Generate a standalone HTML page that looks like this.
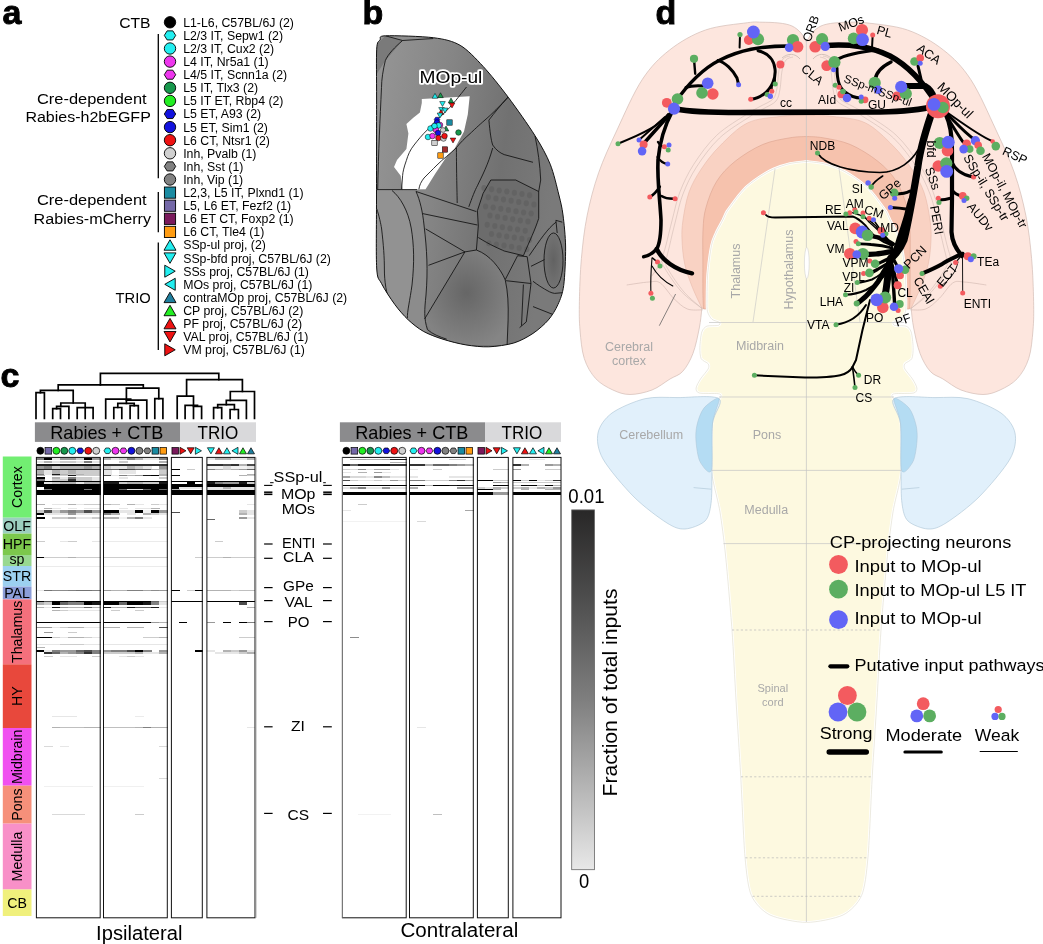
<!DOCTYPE html>
<html><head><meta charset="utf-8"><style>
html,body{margin:0;padding:0;background:#fff;}
body{width:1043px;height:944px;overflow:hidden;}
svg{display:block;font-family:"Liberation Sans", sans-serif;will-change:transform;}
</style></head><body>
<svg width="1043" height="944" viewBox="0 0 1043 944">
<text x="2.5" y="24.3" font-size="34" font-weight="bold" stroke="#000" stroke-width="0.9">a</text>
<circle cx="170" cy="22.3" r="5.7" fill="#000" stroke="#000" stroke-width="0.9"/>
<text x="183.2" y="26.7" font-size="12.3">L1-L6, C57BL/6J (2)</text>
<polygon points="175.7,35.4 172.85,39.94 167.15,39.94 164.3,35.4 167.15,30.86 172.85,30.86" fill="#22eef0" stroke="#000" stroke-width="0.9"/>
<text x="183.2" y="39.8" font-size="12.3">L2/3 IT, Sepw1 (2)</text>
<circle cx="170" cy="48.5" r="5.7" fill="#22eef0" stroke="#000" stroke-width="0.9"/>
<text x="183.2" y="52.9" font-size="12.3">L2/3 IT, Cux2 (2)</text>
<circle cx="170" cy="61.6" r="5.7" fill="#ee36ee" stroke="#000" stroke-width="0.9"/>
<text x="183.2" y="66" font-size="12.3">L4 IT, Nr5a1 (1)</text>
<polygon points="175.7,74.7 172.85,79.24 167.15,79.24 164.3,74.7 167.15,70.16 172.85,70.16" fill="#ee36ee" stroke="#000" stroke-width="0.9"/>
<text x="183.2" y="79.1" font-size="12.3">L4/5 IT, Scnn1a (2)</text>
<circle cx="170" cy="87.8" r="5.7" fill="#17974c" stroke="#000" stroke-width="0.9"/>
<text x="183.2" y="92.2" font-size="12.3">L5 IT, Tlx3 (2)</text>
<circle cx="170" cy="100.9" r="5.7" fill="#22ee22" stroke="#000" stroke-width="0.9"/>
<text x="183.2" y="105.3" font-size="12.3">L5 IT ET, Rbp4 (2)</text>
<polygon points="175.7,114 172.85,118.54 167.15,118.54 164.3,114 167.15,109.46 172.85,109.46" fill="#1212de" stroke="#000" stroke-width="0.9"/>
<text x="183.2" y="118.4" font-size="12.3">L5 ET, A93 (2)</text>
<circle cx="170" cy="127.1" r="5.7" fill="#1212de" stroke="#000" stroke-width="0.9"/>
<text x="183.2" y="131.5" font-size="12.3">L5 ET, Sim1 (2)</text>
<circle cx="170" cy="140.2" r="5.7" fill="#ee1212" stroke="#000" stroke-width="0.9"/>
<text x="183.2" y="144.6" font-size="12.3">L6 CT, Ntsr1 (2)</text>
<circle cx="170" cy="153.3" r="5.7" fill="#d0d0d0" stroke="#000" stroke-width="0.9"/>
<text x="183.2" y="157.7" font-size="12.3">Inh, Pvalb (1)</text>
<polygon points="175.7,166.4 172.85,170.94 167.15,170.94 164.3,166.4 167.15,161.86 172.85,161.86" fill="#818181" stroke="#000" stroke-width="0.9"/>
<text x="183.2" y="170.8" font-size="12.3">Inh, Sst (1)</text>
<circle cx="170" cy="179.5" r="5.7" fill="#818181" stroke="#000" stroke-width="0.9"/>
<text x="183.2" y="183.9" font-size="12.3">Inh, Vip (1)</text>
<rect x="164.4" y="187" width="11.2" height="11.2" fill="#1a8ba2" stroke="#000" stroke-width="0.9"/>
<text x="183.2" y="197" font-size="12.3">L2,3, L5 IT, Plxnd1 (1)</text>
<rect x="164.4" y="200.1" width="11.2" height="11.2" fill="#7468a8" stroke="#000" stroke-width="0.9"/>
<text x="183.2" y="210.1" font-size="12.3">L5, L6 ET, Fezf2 (1)</text>
<rect x="164.4" y="213.2" width="11.2" height="11.2" fill="#7a1a5c" stroke="#000" stroke-width="0.9"/>
<text x="183.2" y="223.2" font-size="12.3">L6 ET CT, Foxp2 (1)</text>
<rect x="164.4" y="226.3" width="11.2" height="11.2" fill="#ff9c12" stroke="#000" stroke-width="0.9"/>
<text x="183.2" y="236.3" font-size="12.3">L6 CT, Tle4 (1)</text>
<polygon points="170,239.78 176,250.22 164,250.22" fill="#22eef0" stroke="#000" stroke-width="0.9"/>
<text x="183.2" y="249.4" font-size="12.3">SSp-ul proj, (2)</text>
<polygon points="170,263.32 176,252.88 164,252.88" fill="#22eef0" stroke="#000" stroke-width="0.9"/>
<text x="183.2" y="262.5" font-size="12.3">SSp-bfd proj, C57BL/6J (2)</text>
<polygon points="175.22,271.2 164.78,265.2 164.78,277.2" fill="#22eef0" stroke="#000" stroke-width="0.9"/>
<text x="183.2" y="275.6" font-size="12.3">SSs proj, C57BL/6J (1)</text>
<polygon points="164.78,284.3 175.22,278.3 175.22,290.3" fill="#22eef0" stroke="#000" stroke-width="0.9"/>
<text x="183.2" y="288.7" font-size="12.3">MOs proj, C57BL/6J (1)</text>
<polygon points="170,292.18 176,302.62 164,302.62" fill="#1f7f9e" stroke="#000" stroke-width="0.9"/>
<text x="183.2" y="301.8" font-size="12.3">contraMOp proj, C57BL/6J (2)</text>
<polygon points="170,305.28 176,315.72 164,315.72" fill="#22ee22" stroke="#000" stroke-width="0.9"/>
<text x="183.2" y="314.9" font-size="12.3">CP proj, C57BL/6J (2)</text>
<polygon points="170,318.38 176,328.82 164,328.82" fill="#ee1212" stroke="#000" stroke-width="0.9"/>
<text x="183.2" y="328" font-size="12.3">PF proj, C57BL/6J (2)</text>
<polygon points="170,341.92 176,331.48 164,331.48" fill="#ee1212" stroke="#000" stroke-width="0.9"/>
<text x="183.2" y="341.1" font-size="12.3">VAL proj, C57BL/6J (1)</text>
<polygon points="175.22,349.8 164.78,343.8 164.78,355.8" fill="#ee1212" stroke="#000" stroke-width="0.9"/>
<text x="183.2" y="354.2" font-size="12.3">VM proj, C57BL/6J (1)</text>
<text x="119.2" y="27.6" font-size="15.4" textLength="31.4" lengthAdjust="spacingAndGlyphs">CTB</text>
<text x="37" y="103.7" font-size="15.4" textLength="109.63" lengthAdjust="spacingAndGlyphs">Cre-dependent</text>
<text x="25.4" y="122" font-size="15.4" textLength="125.44" lengthAdjust="spacingAndGlyphs">Rabies-h2bEGFP</text>
<text x="37" y="205.4" font-size="15.4" textLength="109.63" lengthAdjust="spacingAndGlyphs">Cre-dependent</text>
<text x="33.6" y="224" font-size="15.4" textLength="117.39" lengthAdjust="spacingAndGlyphs">Rabies-mCherry</text>
<text x="115.6" y="302.9" font-size="15.4" textLength="35.18" lengthAdjust="spacingAndGlyphs">TRIO</text>
<line x1="158.3" y1="34" x2="158.3" y2="178.3" stroke="#000" stroke-width="1.3" />
<line x1="158.3" y1="191.9" x2="158.3" y2="232.2" stroke="#000" stroke-width="1.3" />
<line x1="158.3" y1="242.5" x2="158.3" y2="350" stroke="#000" stroke-width="1.3" />
<text x="362.5" y="24.3" font-size="34" font-weight="bold" stroke="#000" stroke-width="0.9">b</text>
<defs>
<linearGradient id="gb1" x1="0" y1="0" x2="1" y2="0.25">
<stop offset="0" stop-color="#969696"/><stop offset="0.4" stop-color="#858585"/>
<stop offset="0.72" stop-color="#717171"/><stop offset="1" stop-color="#7a7a7a"/></linearGradient>
<radialGradient id="gb2" cx="0.5" cy="0.45" r="0.6">
<stop offset="0" stop-color="#666"/><stop offset="1" stop-color="#858585"/></radialGradient>
<radialGradient id="gb3" cx="0.5" cy="0.5" r="0.6">
<stop offset="0" stop-color="#626262"/><stop offset="1" stop-color="#767676"/></radialGradient>
<clipPath id="cb"><path d="M376.7,49.2 C377.21,40.2 378.68,42.01 380,40 C381.32,37.99 377.5,36.14 385.5,35.8 C393.5,35.45 422.11,36.28 433.3,37.7 C444.49,39.12 452.63,40.99 460.1,45.3 C467.57,49.6 475.9,58.63 483.1,66.4 C490.3,74.17 500.33,86.73 508.1,97.1 C515.87,107.46 528.58,125.44 534.9,135.5 C541.22,145.56 546.6,155.27 550.2,164.2 C553.8,173.12 556.98,187.38 558.9,195 C560.82,202.62 562,207.2 563,215 C564,222.8 565.5,236.43 565.6,247 C565.71,257.57 564.86,276.86 563.7,285.5 C562.55,294.14 560.21,299.43 557.9,304.6 C555.59,309.78 552.03,315.68 548.3,320 C544.56,324.32 538.17,329.95 533,333.4 C527.83,336.85 520.41,340.99 513.8,343 C507.18,345.01 496.08,346.51 488.9,346.8 C481.71,347.09 472.8,346.04 465.9,344.9 C459,343.76 449.23,341.21 442.9,339.2 C436.57,337.19 428.88,334.38 423.7,331.5 C418.52,328.62 412.72,324.03 408.4,320 C404.08,315.97 398.93,310.08 394.9,304.6 C390.87,299.12 384.23,288.99 381.5,283.5 C378.77,278.01 377.45,280.52 376.7,268 C375.95,255.47 376.51,225.2 376.5,200 C376.49,174.8 376.57,122.62 376.6,100 C376.63,77.38 376.19,58.2 376.7,49.2 Z"/></clipPath>
</defs>
<path d="M376.7,49.2 C377.21,40.2 378.68,42.01 380,40 C381.32,37.99 377.5,36.14 385.5,35.8 C393.5,35.45 422.11,36.28 433.3,37.7 C444.49,39.12 452.63,40.99 460.1,45.3 C467.57,49.6 475.9,58.63 483.1,66.4 C490.3,74.17 500.33,86.73 508.1,97.1 C515.87,107.46 528.58,125.44 534.9,135.5 C541.22,145.56 546.6,155.27 550.2,164.2 C553.8,173.12 556.98,187.38 558.9,195 C560.82,202.62 562,207.2 563,215 C564,222.8 565.5,236.43 565.6,247 C565.71,257.57 564.86,276.86 563.7,285.5 C562.55,294.14 560.21,299.43 557.9,304.6 C555.59,309.78 552.03,315.68 548.3,320 C544.56,324.32 538.17,329.95 533,333.4 C527.83,336.85 520.41,340.99 513.8,343 C507.18,345.01 496.08,346.51 488.9,346.8 C481.71,347.09 472.8,346.04 465.9,344.9 C459,343.76 449.23,341.21 442.9,339.2 C436.57,337.19 428.88,334.38 423.7,331.5 C418.52,328.62 412.72,324.03 408.4,320 C404.08,315.97 398.93,310.08 394.9,304.6 C390.87,299.12 384.23,288.99 381.5,283.5 C378.77,278.01 377.45,280.52 376.7,268 C375.95,255.47 376.51,225.2 376.5,200 C376.49,174.8 376.57,122.62 376.6,100 C376.63,77.38 376.19,58.2 376.7,49.2 Z" fill="url(#gb1)"/>
<g clip-path="url(#cb)">
<path d="M376,189.6 L392,190.5 C400,197 408,210 411.2,228 C414,245 414.5,262 412,285 C410,300 407,312 407.4,330 L376,330 Z" fill="#929292"/>
<path d="M392,190.5 L416,191.5 C420,200 422.7,212 424,225 C427,250 428,270 426,295 C424.5,310 424,320 427,332 L407,330 C407,312 410,300 412,285 C414.5,262 414,245 411.2,228 C408,210 400,197 392,190.5 Z" fill="#8c8c8c"/>
<path d="M476.4,250 C490,255 500,268 505.2,279.7 C508,292 508.5,305 508.1,320 L507.1,345 L440,345 L424.6,319 L464.9,251.9 Z" fill="url(#gb2)"/>
<path d="M490.8,180 L515.7,180 L538.7,191.5 L538.7,218.4 C535,230 530,240 523.4,255.7 C510,253 495,249 478.3,237.5 L477.4,210.7 L483.1,193.4 Z" fill="#6c6c6c"/>
<ellipse cx="484" cy="188" rx="2.6" ry="3.0" fill="#5c5c5c" opacity="0.55"/>
<ellipse cx="491.6" cy="189.2" rx="2.6" ry="3.0" fill="#5c5c5c" opacity="0.55"/>
<ellipse cx="499.2" cy="190.4" rx="2.6" ry="3.0" fill="#5c5c5c" opacity="0.55"/>
<ellipse cx="506.8" cy="191.6" rx="2.6" ry="3.0" fill="#5c5c5c" opacity="0.55"/>
<ellipse cx="514.4" cy="192.8" rx="2.6" ry="3.0" fill="#5c5c5c" opacity="0.55"/>
<ellipse cx="522" cy="194" rx="2.6" ry="3.0" fill="#5c5c5c" opacity="0.55"/>
<ellipse cx="529.6" cy="195.2" rx="2.6" ry="3.0" fill="#5c5c5c" opacity="0.55"/>
<ellipse cx="488.3" cy="197.2" rx="2.6" ry="3.0" fill="#5c5c5c" opacity="0.55"/>
<ellipse cx="495.9" cy="198.4" rx="2.6" ry="3.0" fill="#5c5c5c" opacity="0.55"/>
<ellipse cx="503.5" cy="199.6" rx="2.6" ry="3.0" fill="#5c5c5c" opacity="0.55"/>
<ellipse cx="511.1" cy="200.8" rx="2.6" ry="3.0" fill="#5c5c5c" opacity="0.55"/>
<ellipse cx="518.7" cy="202" rx="2.6" ry="3.0" fill="#5c5c5c" opacity="0.55"/>
<ellipse cx="526.3" cy="203.2" rx="2.6" ry="3.0" fill="#5c5c5c" opacity="0.55"/>
<ellipse cx="533.9" cy="204.4" rx="2.6" ry="3.0" fill="#5c5c5c" opacity="0.55"/>
<ellipse cx="485.6" cy="206.4" rx="2.6" ry="3.0" fill="#5c5c5c" opacity="0.55"/>
<ellipse cx="493.2" cy="207.6" rx="2.6" ry="3.0" fill="#5c5c5c" opacity="0.55"/>
<ellipse cx="500.8" cy="208.8" rx="2.6" ry="3.0" fill="#5c5c5c" opacity="0.55"/>
<ellipse cx="508.4" cy="210" rx="2.6" ry="3.0" fill="#5c5c5c" opacity="0.55"/>
<ellipse cx="516" cy="211.2" rx="2.6" ry="3.0" fill="#5c5c5c" opacity="0.55"/>
<ellipse cx="523.6" cy="212.4" rx="2.6" ry="3.0" fill="#5c5c5c" opacity="0.55"/>
<ellipse cx="531.2" cy="213.6" rx="2.6" ry="3.0" fill="#5c5c5c" opacity="0.55"/>
<ellipse cx="489.9" cy="215.6" rx="2.6" ry="3.0" fill="#5c5c5c" opacity="0.55"/>
<ellipse cx="497.5" cy="216.8" rx="2.6" ry="3.0" fill="#5c5c5c" opacity="0.55"/>
<ellipse cx="505.1" cy="218" rx="2.6" ry="3.0" fill="#5c5c5c" opacity="0.55"/>
<ellipse cx="512.7" cy="219.2" rx="2.6" ry="3.0" fill="#5c5c5c" opacity="0.55"/>
<ellipse cx="520.3" cy="220.4" rx="2.6" ry="3.0" fill="#5c5c5c" opacity="0.55"/>
<ellipse cx="527.9" cy="221.6" rx="2.6" ry="3.0" fill="#5c5c5c" opacity="0.55"/>
<ellipse cx="487.2" cy="224.8" rx="2.6" ry="3.0" fill="#5c5c5c" opacity="0.55"/>
<ellipse cx="494.8" cy="226" rx="2.6" ry="3.0" fill="#5c5c5c" opacity="0.55"/>
<ellipse cx="502.4" cy="227.2" rx="2.6" ry="3.0" fill="#5c5c5c" opacity="0.55"/>
<ellipse cx="510" cy="228.4" rx="2.6" ry="3.0" fill="#5c5c5c" opacity="0.55"/>
<ellipse cx="517.6" cy="229.6" rx="2.6" ry="3.0" fill="#5c5c5c" opacity="0.55"/>
<ellipse cx="525.2" cy="230.8" rx="2.6" ry="3.0" fill="#5c5c5c" opacity="0.55"/>
<ellipse cx="491.5" cy="234" rx="2.6" ry="3.0" fill="#5c5c5c" opacity="0.55"/>
<ellipse cx="499.1" cy="235.2" rx="2.6" ry="3.0" fill="#5c5c5c" opacity="0.55"/>
<ellipse cx="506.7" cy="236.4" rx="2.6" ry="3.0" fill="#5c5c5c" opacity="0.55"/>
<ellipse cx="514.3" cy="237.6" rx="2.6" ry="3.0" fill="#5c5c5c" opacity="0.55"/>
<ellipse cx="521.9" cy="238.8" rx="2.6" ry="3.0" fill="#5c5c5c" opacity="0.55"/>
<ellipse cx="529.5" cy="240" rx="2.6" ry="3.0" fill="#5c5c5c" opacity="0.55"/>
<ellipse cx="488.8" cy="243.2" rx="2.6" ry="3.0" fill="#5c5c5c" opacity="0.55"/>
<ellipse cx="496.4" cy="244.4" rx="2.6" ry="3.0" fill="#5c5c5c" opacity="0.55"/>
<ellipse cx="504" cy="245.6" rx="2.6" ry="3.0" fill="#5c5c5c" opacity="0.55"/>
<ellipse cx="511.6" cy="246.8" rx="2.6" ry="3.0" fill="#5c5c5c" opacity="0.55"/>
<ellipse cx="519.2" cy="248" rx="2.6" ry="3.0" fill="#5c5c5c" opacity="0.55"/>
<ellipse cx="526.8" cy="249.2" rx="2.6" ry="3.0" fill="#5c5c5c" opacity="0.55"/>
<ellipse cx="553.5" cy="260.5" rx="9.5" ry="27.5" fill="url(#gb3)"/>
<path d="M376,45 L385.5,35.8 L402.6,40.5 L385.3,60.7 L376,75 Z" fill="#7a7a7a"/>
<path d="M421.8,99 L469.7,96.2 L467.8,114.4 L464,131.6 L454.4,148.9 L446.7,156.6 L435.2,173.8 L425.6,189.2 L402.6,189.4 L400.7,175.7 L394,167.1 L397,160 L406.4,148.9 L408.4,133.5 L406.4,124 L413,118 L419.9,112.5 L421.8,102.9 Z" fill="#fff"/>
<g fill="none" stroke="#111" stroke-width="0.85">
<path d="M385.5,35.8 L402.6,40.5 L433.3,38.5" fill="none" stroke="#111" stroke-width="0.85"/>
<path d="M402.6,40.5 C395,47 388,54 385.3,60.7 C383,70 381.5,80 381.5,87.5 C380,120 378.5,150 377.7,189.6" fill="none" stroke="#111" stroke-width="0.85"/>
<path d="M376.7,189.6 L417,189.6" fill="none" stroke="#111" stroke-width="0.85"/>
<path d="M392,190.5 C400,197 408,210 411.2,228 C414,245 414.5,262 412,285 C410,300 407,312 407.4,318" fill="none" stroke="#111" stroke-width="0.85"/>
<path d="M376.7,208.8 C379,215 381,225 381.5,228 C383.5,245 384.4,256.7 384.4,270 C384.4,280 386,295 391.1,304.6" fill="none" stroke="#111" stroke-width="0.85"/>
<path d="M416,191.5 C420,200 422.7,212 424,225 C427,250 428,270 426,295 C424.5,310 423.7,318 427.5,329.6 C432,334 440,337 446.7,339.2" fill="none" stroke="#111" stroke-width="0.85"/>
<path d="M416,191.5 L476.4,211.6" fill="none" stroke="#111" stroke-width="0.85"/>
<path d="M422.7,213.6 L477.4,225" fill="none" stroke="#111" stroke-width="0.85"/>
<path d="M425.6,228.9 L464.9,251.9" fill="none" stroke="#111" stroke-width="0.85"/>
<path d="M428.5,265.3 L464.9,251.9" fill="none" stroke="#111" stroke-width="0.85"/>
<path d="M464.9,251.9 L424.6,319" fill="none" stroke="#111" stroke-width="0.85"/>
<path d="M464.9,251.9 L476.4,250" fill="none" stroke="#111" stroke-width="0.85"/>
<path d="M476.4,250 C490,255 500,268 505.2,279.7 C508,292 508.5,305 508.1,320 L507.1,345" fill="none" stroke="#111" stroke-width="0.85"/>
<path d="M476.4,250 L478.3,226 L477.4,210.7 L483.1,193.4 L490.8,180" fill="none" stroke="#111" stroke-width="0.85"/>
<path d="M490.8,180 L515.7,180 L538.7,191.5 L538.7,218.4 C535,230 530,240 523.4,255.7" fill="none" stroke="#111" stroke-width="0.85"/>
<path d="M478.3,237.5 C490,245 500,249 504.2,251 L523.4,255.7" fill="none" stroke="#111" stroke-width="0.85"/>
<path d="M457.2,203 C457,190 456.5,175 456.4,147.7" fill="none" stroke="#111" stroke-width="0.85"/>
<path d="M468.8,206.8 C472,198 475,190 477.4,185.8 C482,176 488,165 492.7,148" fill="none" stroke="#111" stroke-width="0.85"/>
<path d="M517.6,255.7 L527.2,256.7 L531,283.5 L506.1,280.7" fill="none" stroke="#111" stroke-width="0.85"/>
<path d="M505.2,279.7 L517.6,255.7" fill="none" stroke="#111" stroke-width="0.85"/>
<path d="M523.4,284.5 L521.5,325.7" fill="none" stroke="#111" stroke-width="0.85"/>
<path d="M531,283.5 L526.3,321.9 L519.6,327.6" fill="none" stroke="#111" stroke-width="0.85"/>
<path d="M531,266.3 L544.5,259.6" fill="none" stroke="#111" stroke-width="0.85"/>
<path d="M529.2,255.7 C540,240 548,228 556,222.2" fill="none" stroke="#111" stroke-width="0.85"/>
<path d="M533,306.6 L552.2,314.2" fill="none" stroke="#111" stroke-width="0.85"/>
<path d="M533,281.3 C538,285 541,287 544.5,289 C548,291 551,293 554.6,293.4 L562.3,292.7" fill="none" stroke="#111" stroke-width="0.85"/>
<path d="M538.7,191.5 L540.7,180 C540,165 538,150 534.9,135.5" fill="none" stroke="#111" stroke-width="0.85"/>
<path d="M508.1,97.1 C500,106 495,112 488.9,120.1 C490,132 491,140 492.7,145 C496,150 500,153 504.2,154.6 L533,162.3" fill="none" stroke="#111" stroke-width="0.85"/>
<path d="M466.5,87 C460,95 452,106 442.9,114.4 C436,120 432,125 427.5,129.7 C422,135 418,140 414.1,145 C410,150 408,155 406.4,160.4 C404,167 402.8,172 402.6,175.7 L401.6,189.2" fill="none" stroke="#111" stroke-width="0.85"/>
<path d="M508.1,97.1 C500,106 492,114 485,120 C478,126 474,130 470,133.7 C465,138 460,143 456.4,147.7 C450,154 443,159 437,165 C432,170 428,174 424,178 C421,182 419.5,185 418.9,189.2" fill="none" stroke="#111" stroke-width="0.85"/>
</g>
<ellipse cx="553.5" cy="260.5" rx="9.5" ry="27.5" fill="none" stroke="#111" stroke-width="0.85"/>
<path d="M555.9,220.3 L557.2,233" fill="none" stroke="#111" stroke-width="0.85"/>
<path d="M555.9,220.3 L562.3,222.2" fill="none" stroke="#111" stroke-width="0.85"/>
</g>
<path d="M376.7,49.2 C377.21,40.2 378.68,42.01 380,40 C381.32,37.99 377.5,36.14 385.5,35.8 C393.5,35.45 422.11,36.28 433.3,37.7 C444.49,39.12 452.63,40.99 460.1,45.3 C467.57,49.6 475.9,58.63 483.1,66.4 C490.3,74.17 500.33,86.73 508.1,97.1 C515.87,107.46 528.58,125.44 534.9,135.5 C541.22,145.56 546.6,155.27 550.2,164.2 C553.8,173.12 556.98,187.38 558.9,195 C560.82,202.62 562,207.2 563,215 C564,222.8 565.5,236.43 565.6,247 C565.71,257.57 564.86,276.86 563.7,285.5 C562.55,294.14 560.21,299.43 557.9,304.6 C555.59,309.78 552.03,315.68 548.3,320 C544.56,324.32 538.17,329.95 533,333.4 C527.83,336.85 520.41,340.99 513.8,343 C507.18,345.01 496.08,346.51 488.9,346.8 C481.71,347.09 472.8,346.04 465.9,344.9 C459,343.76 449.23,341.21 442.9,339.2 C436.57,337.19 428.88,334.38 423.7,331.5 C418.52,328.62 412.72,324.03 408.4,320 C404.08,315.97 398.93,310.08 394.9,304.6 C390.87,299.12 384.23,288.99 381.5,283.5 C378.77,278.01 377.45,280.52 376.7,268 C375.95,255.47 376.51,225.2 376.5,200 C376.49,174.8 376.57,122.62 376.6,100 C376.63,77.38 376.19,58.2 376.7,49.2 Z" fill="none" stroke="#111" stroke-width="1"/>
<polygon points="435,93.36 437.8,98.24 432.2,98.24" fill="#22eef0" stroke="#000" stroke-width="0.5"/>
<polygon points="440.5,92.76 443.3,97.64 437.7,97.64" fill="#17974c" stroke="#000" stroke-width="0.5"/>
<polygon points="442.5,106.44 445.3,101.56 439.7,101.56" fill="#22eef0" stroke="#000" stroke-width="0.5"/>
<polygon points="451,98.06 453.8,102.94 448.2,102.94" fill="#17974c" stroke="#000" stroke-width="0.5"/>
<polygon points="452,107.94 454.8,103.06 449.2,103.06" fill="#ee1212" stroke="#000" stroke-width="0.5"/>
<polygon points="441.5,112.44 444.3,107.56 438.7,107.56" fill="#22eef0" stroke="#000" stroke-width="0.5"/>
<polygon points="445,112.94 447.8,108.06 442.2,108.06" fill="#22eef0" stroke="#000" stroke-width="0.5"/>
<polygon points="441,109.56 443.8,114.44 438.2,114.44" fill="#ee1212" stroke="#000" stroke-width="0.5"/>
<polygon points="440,117.94 442.8,113.06 437.2,113.06" fill="#22eef0" stroke="#000" stroke-width="0.5"/>
<rect x="446.8" y="119.8" width="5.4" height="5.4" fill="#1a8ba2" stroke="#000" stroke-width="0.5"/>
<polygon points="439.8,119.5 438.4,121.73 435.6,121.73 434.2,119.5 435.6,117.27 438.4,117.27" fill="#1212de" stroke="#000" stroke-width="0.5"/>
<circle cx="437" cy="122.5" r="2.8" fill="#1212de" stroke="#000" stroke-width="0.5"/>
<circle cx="440" cy="125" r="2.8" fill="#ee36ee" stroke="#000" stroke-width="0.5"/>
<circle cx="438.5" cy="125.5" r="2.8" fill="#22eef0" stroke="#000" stroke-width="0.5"/>
<polygon points="446,126.06 448.8,130.94 443.2,130.94" fill="#17974c" stroke="#000" stroke-width="0.5"/>
<circle cx="458.5" cy="132.5" r="2.8" fill="#17974c" stroke="#000" stroke-width="0.5"/>
<circle cx="430.5" cy="128.5" r="2.8" fill="#22eef0" stroke="#000" stroke-width="0.5"/>
<circle cx="436" cy="130" r="2.8" fill="#ee36ee" stroke="#000" stroke-width="0.5"/>
<circle cx="438" cy="133" r="2.8" fill="#1212de" stroke="#000" stroke-width="0.5"/>
<circle cx="434.5" cy="126" r="2.8" fill="#22eef0" stroke="#000" stroke-width="0.5"/>
<circle cx="428" cy="137" r="2.8" fill="#22eef0" stroke="#000" stroke-width="0.5"/>
<circle cx="432.5" cy="136" r="2.8" fill="#ee36ee" stroke="#000" stroke-width="0.5"/>
<polygon points="445.8,130 444.4,132.23 441.6,132.23 440.2,130 441.6,127.77 444.4,127.77" fill="#d0d0d0" stroke="#000" stroke-width="0.5"/>
<circle cx="438.5" cy="138" r="2.8" fill="#ee1212" stroke="#000" stroke-width="0.5"/>
<circle cx="443.5" cy="138.5" r="2.8" fill="#d0d0d0" stroke="#000" stroke-width="0.5"/>
<circle cx="444.5" cy="136" r="2.8" fill="#ee1212" stroke="#000" stroke-width="0.5"/>
<polygon points="453,142.94 455.8,138.06 450.2,138.06" fill="#ee1212" stroke="#000" stroke-width="0.5"/>
<rect x="431.8" y="140.3" width="5.4" height="5.4" fill="#d0d0d0" stroke="#000" stroke-width="0.5"/>
<rect x="442.3" y="146.8" width="5.4" height="5.4" fill="#a02c2c" stroke="#000" stroke-width="0.5"/>
<rect x="437.8" y="152.8" width="5.4" height="5.4" fill="#ff9c12" stroke="#000" stroke-width="0.5"/>
<text x="419.5" y="83.3" font-size="16" textLength="62.87" lengthAdjust="spacingAndGlyphs" stroke="#fff" stroke-width="3.4" paint-order="stroke" stroke-linejoin="round">MOp-ul</text>
<text x="0.5" y="386.6" font-size="34" font-weight="bold" stroke="#000" stroke-width="0.9">c</text>
<g fill="none" stroke="#000" stroke-width="1.7" stroke-linecap="square">
<polyline points="100.4,384.8 100.4,373.3 218.8,373.3 218.8,379.6"/>
<polyline points="58.2,390.3 58.2,384.8 143.3,384.8 143.3,388.1"/>
<polyline points="40.4,392.6 40.4,390.3 73.2,390.3 73.2,403"/>
<polyline points="36,418.5 36,392.6 44.4,392.6 44.4,418.5"/>
<polyline points="60.8,406.4 60.8,403 85.2,403 85.2,418.5"/>
<polyline points="56.6,408.7 56.6,406.4 68.9,406.4 68.9,418.5"/>
<polyline points="52.7,418.5 52.7,408.7 60.5,408.7 60.5,418.5"/>
<polyline points="77.2,418.5 77.2,407.6 93.1,407.6 93.1,418.5"/>
<polyline points="126.4,403.3 126.4,388.1 158.8,388.1 158.8,398.7"/>
<polyline points="154.8,418.5 154.8,398.7 162.9,398.7 162.9,418.5"/>
<polyline points="105.7,418.5 105.7,399.1 130.7,399.1"/>
<polyline points="126.4,400.2 146.8,400.2 146.8,418.5"/>
<polyline points="117.8,407.5 117.8,403.3 134.2,403.3 134.2,405.6"/>
<polyline points="113.8,418.5 113.8,407.5 121.8,407.5 121.8,418.5"/>
<polyline points="130.1,418.5 130.1,405.6 138.3,405.6 138.3,418.5"/>
<polyline points="186.6,396.1 186.6,379.6 242.4,379.6 242.4,391.5"/>
<polyline points="177.2,418.5 177.2,396.1 193.5,396.1 193.5,418.5"/>
<polyline points="185.1,418.5 185.1,405.3 197.5,405.3"/>
<polyline points="193.5,406.4 201.6,406.4 201.6,418.5"/>
<polyline points="230.3,400.4 230.3,391.5 254.5,391.5 254.5,418.5"/>
<polyline points="226.3,404.7 226.3,400.4 246.4,400.4 246.4,418.5"/>
<polyline points="217.7,407.6 217.7,404.7 234.4,404.7 234.4,409.5"/>
<polyline points="213.6,418.5 213.6,407.6 221.7,407.6 221.7,418.5"/>
<polyline points="230.1,418.5 230.1,409.5 238.4,409.5 238.4,418.5"/>
</g>
<rect x="34.9" y="422.3" width="145.1" height="19.6" fill="#8b8b8d" />
<rect x="180" y="422.3" width="76" height="19.6" fill="#d9d9db" />
<text x="50.3" y="438.8" font-size="17.9" textLength="113.06" lengthAdjust="spacingAndGlyphs">Rabies + CTB</text>
<text x="197.6" y="438.8" font-size="17.9" textLength="40.78" lengthAdjust="spacingAndGlyphs">TRIO</text>
<rect x="339.9" y="422.3" width="145.1" height="19.6" fill="#8b8b8d" />
<rect x="485" y="422.3" width="76" height="19.6" fill="#d9d9db" />
<text x="355.3" y="438.8" font-size="17.9" textLength="113.06" lengthAdjust="spacingAndGlyphs">Rabies + CTB</text>
<text x="501.5" y="438.8" font-size="17.9" textLength="40.78" lengthAdjust="spacingAndGlyphs">TRIO</text>
<circle cx="40.39" cy="450.8" r="3.5" fill="#000" stroke="#000" stroke-width="0.7"/>
<rect x="45.06" y="447.5" width="6.6" height="6.6" fill="#7468a8" stroke="#000" stroke-width="0.7"/>
<circle cx="56.34" cy="450.8" r="3.5" fill="#22ee22" stroke="#000" stroke-width="0.7"/>
<circle cx="64.31" cy="450.8" r="3.5" fill="#17974c" stroke="#000" stroke-width="0.7"/>
<circle cx="72.29" cy="450.8" r="3.5" fill="#22eef0" stroke="#000" stroke-width="0.7"/>
<polygon points="83.76,450.8 82.01,453.59 78.51,453.59 76.76,450.8 78.51,448.01 82.01,448.01" fill="#1212de" stroke="#000" stroke-width="0.7"/>
<circle cx="88.24" cy="450.8" r="3.5" fill="#ee1212" stroke="#000" stroke-width="0.7"/>
<circle cx="96.21" cy="450.8" r="3.5" fill="#d0d0d0" stroke="#000" stroke-width="0.7"/>
<polygon points="110.99,450.8 109.24,453.59 105.74,453.59 103.99,450.8 105.74,448.01 109.24,448.01" fill="#22eef0" stroke="#000" stroke-width="0.7"/>
<circle cx="115.46" cy="450.8" r="3.5" fill="#ee36ee" stroke="#000" stroke-width="0.7"/>
<polygon points="126.94,450.8 125.19,453.59 121.69,453.59 119.94,450.8 121.69,448.01 125.19,448.01" fill="#ee36ee" stroke="#000" stroke-width="0.7"/>
<circle cx="131.41" cy="450.8" r="3.5" fill="#1212de" stroke="#000" stroke-width="0.7"/>
<circle cx="139.39" cy="450.8" r="3.5" fill="#818181" stroke="#000" stroke-width="0.7"/>
<polygon points="150.86,450.8 149.11,453.59 145.61,453.59 143.86,450.8 145.61,448.01 149.11,448.01" fill="#818181" stroke="#000" stroke-width="0.7"/>
<rect x="152.04" y="447.5" width="6.6" height="6.6" fill="#1a8ba2" stroke="#000" stroke-width="0.7"/>
<rect x="160.01" y="447.5" width="6.6" height="6.6" fill="#ff9c12" stroke="#000" stroke-width="0.7"/>
<rect x="171.96" y="447.5" width="6.6" height="6.6" fill="#7a1a5c" stroke="#000" stroke-width="0.7"/>
<polygon points="186.03,450.8 179.94,447.3 179.94,454.3" fill="#ee1212" stroke="#000" stroke-width="0.7"/>
<polygon points="190.71,453.85 194.21,447.75 187.21,447.75" fill="#ee1212" stroke="#000" stroke-width="0.7"/>
<polygon points="201.48,450.8 195.39,447.3 195.39,454.3" fill="#22eef0" stroke="#000" stroke-width="0.7"/>
<polygon points="210.91,453.85 214.41,447.75 207.41,447.75" fill="#22eef0" stroke="#000" stroke-width="0.7"/>
<polygon points="218.93,447.75 222.43,453.85 215.43,453.85" fill="#ee1212" stroke="#000" stroke-width="0.7"/>
<polygon points="226.94,447.75 230.44,453.85 223.44,453.85" fill="#22eef0" stroke="#000" stroke-width="0.7"/>
<polygon points="231.91,450.8 238,447.3 238,454.3" fill="#22eef0" stroke="#000" stroke-width="0.7"/>
<polygon points="242.97,447.75 246.47,453.85 239.47,453.85" fill="#22ee22" stroke="#000" stroke-width="0.7"/>
<polygon points="250.99,447.75 254.49,453.85 247.49,453.85" fill="#1f7f9e" stroke="#000" stroke-width="0.7"/>
<g shape-rendering="crispEdges">
<rect x="36.4" y="458" width="8.38" height="1.6" fill="rgb(128,128,128)" />
<rect x="44.38" y="458" width="8.38" height="1.6" fill="rgb(0,0,0)" />
<rect x="52.35" y="458" width="8.38" height="1.6" fill="rgb(230,230,230)" />
<rect x="60.33" y="458" width="8.38" height="1.6" fill="rgb(153,153,153)" />
<rect x="68.3" y="458" width="8.38" height="1.6" fill="rgb(153,153,153)" />
<rect x="76.28" y="458" width="8.38" height="1.6" fill="rgb(204,204,204)" />
<rect x="84.25" y="458" width="8.38" height="1.6" fill="rgb(0,0,0)" />
<rect x="92.22" y="458" width="8.38" height="1.6" fill="rgb(153,153,153)" />
<rect x="103.5" y="458" width="8.38" height="1.6" fill="rgb(178,178,178)" />
<rect x="111.47" y="458" width="8.38" height="1.6" fill="rgb(230,230,230)" />
<rect x="119.45" y="458" width="8.38" height="1.6" fill="rgb(204,204,204)" />
<rect x="127.43" y="458" width="8.38" height="1.6" fill="rgb(128,128,128)" />
<rect x="135.4" y="458" width="8.38" height="1.6" fill="rgb(178,178,178)" />
<rect x="143.38" y="458" width="8.38" height="1.6" fill="rgb(230,230,230)" />
<rect x="151.35" y="458" width="8.38" height="1.6" fill="rgb(230,230,230)" />
<rect x="159.33" y="458" width="8.38" height="1.6" fill="rgb(128,128,128)" />
<rect x="206.9" y="458" width="8.42" height="1.6" fill="rgb(230,230,230)" />
<rect x="214.92" y="458" width="8.42" height="1.6" fill="rgb(178,178,178)" />
<rect x="222.93" y="458" width="8.42" height="1.6" fill="rgb(178,178,178)" />
<rect x="230.95" y="458" width="8.42" height="1.6" fill="rgb(230,230,230)" />
<rect x="238.97" y="458" width="8.42" height="1.6" fill="rgb(230,230,230)" />
<rect x="246.98" y="458" width="8.42" height="1.6" fill="rgb(178,178,178)" />
<rect x="36.4" y="460.5" width="8.38" height="2.3" fill="rgb(230,230,230)" />
<rect x="44.38" y="460.5" width="8.38" height="2.3" fill="rgb(178,178,178)" />
<rect x="52.35" y="460.5" width="8.38" height="2.3" fill="rgb(230,230,230)" />
<rect x="60.33" y="460.5" width="8.38" height="2.3" fill="rgb(204,204,204)" />
<rect x="68.3" y="460.5" width="8.38" height="2.3" fill="rgb(204,204,204)" />
<rect x="76.28" y="460.5" width="8.38" height="2.3" fill="rgb(230,230,230)" />
<rect x="84.25" y="460.5" width="8.38" height="2.3" fill="rgb(128,128,128)" />
<rect x="92.22" y="460.5" width="8.38" height="2.3" fill="rgb(230,230,230)" />
<rect x="119.45" y="460.5" width="8.38" height="2.3" fill="rgb(204,204,204)" />
<rect x="159.33" y="460.5" width="8.38" height="2.3" fill="rgb(178,178,178)" />
<rect x="36.4" y="464.2" width="8.38" height="1.3" fill="rgb(25,25,25)" />
<rect x="44.38" y="464.2" width="8.38" height="1.3" fill="rgb(25,25,25)" />
<rect x="52.35" y="464.2" width="8.38" height="1.3" fill="rgb(25,25,25)" />
<rect x="60.33" y="464.2" width="8.38" height="1.3" fill="rgb(25,25,25)" />
<rect x="68.3" y="464.2" width="8.38" height="1.3" fill="rgb(25,25,25)" />
<rect x="76.28" y="464.2" width="8.38" height="1.3" fill="rgb(25,25,25)" />
<rect x="84.25" y="464.2" width="8.38" height="1.3" fill="rgb(25,25,25)" />
<rect x="92.22" y="464.2" width="8.38" height="1.3" fill="rgb(25,25,25)" />
<rect x="103.5" y="464.2" width="8.38" height="1.3" fill="rgb(51,51,51)" />
<rect x="111.47" y="464.2" width="8.38" height="1.3" fill="rgb(51,51,51)" />
<rect x="119.45" y="464.2" width="8.38" height="1.3" fill="rgb(51,51,51)" />
<rect x="127.43" y="464.2" width="8.38" height="1.3" fill="rgb(51,51,51)" />
<rect x="135.4" y="464.2" width="8.38" height="1.3" fill="rgb(51,51,51)" />
<rect x="143.38" y="464.2" width="8.38" height="1.3" fill="rgb(51,51,51)" />
<rect x="151.35" y="464.2" width="8.38" height="1.3" fill="rgb(51,51,51)" />
<rect x="159.33" y="464.2" width="8.38" height="1.3" fill="rgb(51,51,51)" />
<rect x="206.9" y="464.2" width="8.42" height="1.3" fill="rgb(51,51,51)" />
<rect x="214.92" y="464.2" width="8.42" height="1.3" fill="rgb(51,51,51)" />
<rect x="222.93" y="464.2" width="8.42" height="1.3" fill="rgb(77,77,77)" />
<rect x="230.95" y="464.2" width="8.42" height="1.3" fill="rgb(51,51,51)" />
<rect x="238.97" y="464.2" width="8.42" height="1.3" fill="rgb(178,178,178)" />
<rect x="246.98" y="464.2" width="8.42" height="1.3" fill="rgb(77,77,77)" />
<rect x="36.4" y="466.2" width="8.38" height="2.5" fill="rgb(153,153,153)" />
<rect x="44.38" y="466.2" width="8.38" height="2.5" fill="rgb(128,128,128)" />
<rect x="52.35" y="466.2" width="8.38" height="2.5" fill="rgb(204,204,204)" />
<rect x="60.33" y="466.2" width="8.38" height="2.5" fill="rgb(178,178,178)" />
<rect x="68.3" y="466.2" width="8.38" height="2.5" fill="rgb(178,178,178)" />
<rect x="76.28" y="466.2" width="8.38" height="2.5" fill="rgb(178,178,178)" />
<rect x="84.25" y="466.2" width="8.38" height="2.5" fill="rgb(153,153,153)" />
<rect x="92.22" y="466.2" width="8.38" height="2.5" fill="rgb(178,178,178)" />
<rect x="103.5" y="466.2" width="8.38" height="2.5" fill="rgb(204,204,204)" />
<rect x="111.47" y="466.2" width="8.38" height="2.5" fill="rgb(230,230,230)" />
<rect x="119.45" y="466.2" width="8.38" height="2.5" fill="rgb(230,230,230)" />
<rect x="127.43" y="466.2" width="8.38" height="2.5" fill="rgb(178,178,178)" />
<rect x="135.4" y="466.2" width="8.38" height="2.5" fill="rgb(204,204,204)" />
<rect x="143.38" y="466.2" width="8.38" height="2.5" fill="rgb(230,230,230)" />
<rect x="159.33" y="466.2" width="8.38" height="2.5" fill="rgb(153,153,153)" />
<rect x="206.9" y="466.2" width="8.42" height="2.5" fill="rgb(242,242,242)" />
<rect x="214.92" y="466.2" width="8.42" height="2.5" fill="rgb(242,242,242)" />
<rect x="222.93" y="466.2" width="8.42" height="2.5" fill="rgb(217,217,217)" />
<rect x="230.95" y="466.2" width="8.42" height="2.5" fill="rgb(242,242,242)" />
<rect x="238.97" y="466.2" width="8.42" height="2.5" fill="rgb(242,242,242)" />
<rect x="246.98" y="466.2" width="8.42" height="2.5" fill="rgb(230,230,230)" />
<rect x="36.4" y="469" width="8.38" height="1.1" fill="rgb(38,38,38)" />
<rect x="44.38" y="469" width="8.38" height="1.1" fill="rgb(38,38,38)" />
<rect x="52.35" y="469" width="8.38" height="1.1" fill="rgb(38,38,38)" />
<rect x="60.33" y="469" width="8.38" height="1.1" fill="rgb(38,38,38)" />
<rect x="68.3" y="469" width="8.38" height="1.1" fill="rgb(38,38,38)" />
<rect x="76.28" y="469" width="8.38" height="1.1" fill="rgb(38,38,38)" />
<rect x="84.25" y="469" width="8.38" height="1.1" fill="rgb(38,38,38)" />
<rect x="92.22" y="469" width="8.38" height="1.1" fill="rgb(38,38,38)" />
<rect x="103.5" y="469" width="8.38" height="1.1" fill="rgb(102,102,102)" />
<rect x="111.47" y="469" width="8.38" height="1.1" fill="rgb(102,102,102)" />
<rect x="119.45" y="469" width="8.38" height="1.1" fill="rgb(51,51,51)" />
<rect x="127.43" y="469" width="8.38" height="1.1" fill="rgb(77,77,77)" />
<rect x="135.4" y="469" width="8.38" height="1.1" fill="rgb(102,102,102)" />
<rect x="143.38" y="469" width="8.38" height="1.1" fill="rgb(102,102,102)" />
<rect x="151.35" y="469" width="8.38" height="1.1" fill="rgb(178,178,178)" />
<rect x="159.33" y="469" width="8.38" height="1.1" fill="rgb(178,178,178)" />
<rect x="171.4" y="469" width="8.13" height="1.1" fill="rgb(0,0,0)" />
<rect x="186.85" y="469" width="8.13" height="1.1" fill="rgb(204,204,204)" />
<rect x="206.9" y="469" width="8.42" height="1.1" fill="rgb(128,128,128)" />
<rect x="214.92" y="469" width="8.42" height="1.1" fill="rgb(178,178,178)" />
<rect x="222.93" y="469" width="8.42" height="1.1" fill="rgb(204,204,204)" />
<rect x="230.95" y="469" width="8.42" height="1.1" fill="rgb(178,178,178)" />
<rect x="238.97" y="469" width="8.42" height="1.1" fill="rgb(153,153,153)" />
<rect x="246.98" y="469" width="8.42" height="1.1" fill="rgb(102,102,102)" />
<rect x="36.4" y="470.4" width="8.38" height="3.3" fill="rgb(178,178,178)" />
<rect x="44.38" y="470.4" width="8.38" height="3.3" fill="rgb(230,230,230)" />
<rect x="52.35" y="470.4" width="8.38" height="3.3" fill="rgb(178,178,178)" />
<rect x="60.33" y="470.4" width="8.38" height="3.3" fill="rgb(204,204,204)" />
<rect x="68.3" y="470.4" width="8.38" height="3.3" fill="rgb(178,178,178)" />
<rect x="76.28" y="470.4" width="8.38" height="3.3" fill="rgb(204,204,204)" />
<rect x="84.25" y="470.4" width="8.38" height="3.3" fill="rgb(204,204,204)" />
<rect x="92.22" y="470.4" width="8.38" height="3.3" fill="rgb(204,204,204)" />
<rect x="103.5" y="470.4" width="8.38" height="3.3" fill="rgb(230,230,230)" />
<rect x="119.45" y="470.4" width="8.38" height="3.3" fill="rgb(230,230,230)" />
<rect x="127.43" y="470.4" width="8.38" height="3.3" fill="rgb(230,230,230)" />
<rect x="159.33" y="470.4" width="8.38" height="3.3" fill="rgb(204,204,204)" />
<rect x="36.4" y="473.5" width="8.38" height="1.5" fill="rgb(128,128,128)" />
<rect x="44.38" y="473.5" width="8.38" height="1.5" fill="rgb(230,230,230)" />
<rect x="52.35" y="473.5" width="8.38" height="1.5" fill="rgb(25,25,25)" />
<rect x="60.33" y="473.5" width="8.38" height="1.5" fill="rgb(178,178,178)" />
<rect x="68.3" y="473.5" width="8.38" height="1.5" fill="rgb(204,204,204)" />
<rect x="76.28" y="473.5" width="8.38" height="1.5" fill="rgb(178,178,178)" />
<rect x="84.25" y="473.5" width="8.38" height="1.5" fill="rgb(204,204,204)" />
<rect x="92.22" y="473.5" width="8.38" height="1.5" fill="rgb(204,204,204)" />
<rect x="103.5" y="473.5" width="8.38" height="1.5" fill="rgb(230,230,230)" />
<rect x="159.33" y="473.5" width="8.38" height="1.5" fill="rgb(178,178,178)" />
<rect x="246.98" y="473.5" width="8.42" height="1.5" fill="rgb(178,178,178)" />
<rect x="36.4" y="475" width="8.38" height="1.3" fill="rgb(178,178,178)" />
<rect x="52.35" y="475" width="8.38" height="1.3" fill="rgb(178,178,178)" />
<rect x="60.33" y="475" width="8.38" height="1.3" fill="rgb(204,204,204)" />
<rect x="68.3" y="475" width="8.38" height="1.3" fill="rgb(25,25,25)" />
<rect x="76.28" y="475" width="8.38" height="1.3" fill="rgb(204,204,204)" />
<rect x="84.25" y="475" width="8.38" height="1.3" fill="rgb(204,204,204)" />
<rect x="92.22" y="475" width="8.38" height="1.3" fill="rgb(204,204,204)" />
<rect x="103.5" y="475" width="8.38" height="1.3" fill="rgb(77,77,77)" />
<rect x="111.47" y="475" width="8.38" height="1.3" fill="rgb(230,230,230)" />
<rect x="119.45" y="475" width="8.38" height="1.3" fill="rgb(128,128,128)" />
<rect x="127.43" y="475" width="8.38" height="1.3" fill="rgb(178,178,178)" />
<rect x="135.4" y="475" width="8.38" height="1.3" fill="rgb(153,153,153)" />
<rect x="143.38" y="475" width="8.38" height="1.3" fill="rgb(25,25,25)" />
<rect x="151.35" y="475" width="8.38" height="1.3" fill="rgb(0,0,0)" />
<rect x="159.33" y="475" width="8.38" height="1.3" fill="rgb(178,178,178)" />
<rect x="171.4" y="475" width="8.13" height="1.3" fill="rgb(0,0,0)" />
<rect x="238.97" y="475" width="8.42" height="1.3" fill="rgb(178,178,178)" />
<rect x="246.98" y="475" width="8.42" height="1.3" fill="rgb(204,204,204)" />
<rect x="36.4" y="477" width="8.38" height="2" fill="rgb(0,0,0)" />
<rect x="52.35" y="477" width="8.38" height="2" fill="rgb(178,178,178)" />
<rect x="60.33" y="477" width="8.38" height="2" fill="rgb(230,230,230)" />
<rect x="68.3" y="477" width="8.38" height="2" fill="rgb(128,128,128)" />
<rect x="76.28" y="477" width="8.38" height="2" fill="rgb(204,204,204)" />
<rect x="84.25" y="477" width="8.38" height="2" fill="rgb(204,204,204)" />
<rect x="92.22" y="477" width="8.38" height="2" fill="rgb(230,230,230)" />
<rect x="119.45" y="477" width="8.38" height="2" fill="rgb(230,230,230)" />
<rect x="159.33" y="477" width="8.38" height="2" fill="rgb(204,204,204)" />
<rect x="36.4" y="479" width="8.38" height="1.6" fill="rgb(128,128,128)" />
<rect x="52.35" y="479" width="8.38" height="1.6" fill="rgb(204,204,204)" />
<rect x="60.33" y="479" width="8.38" height="1.6" fill="rgb(204,204,204)" />
<rect x="68.3" y="479" width="8.38" height="1.6" fill="rgb(51,51,51)" />
<rect x="76.28" y="479" width="8.38" height="1.6" fill="rgb(204,204,204)" />
<rect x="84.25" y="479" width="8.38" height="1.6" fill="rgb(204,204,204)" />
<rect x="92.22" y="479" width="8.38" height="1.6" fill="rgb(230,230,230)" />
<rect x="36.4" y="480.8" width="8.38" height="1.2" fill="rgb(0,0,0)" />
<rect x="44.38" y="480.8" width="8.38" height="1.2" fill="rgb(0,0,0)" />
<rect x="52.35" y="480.8" width="8.38" height="1.2" fill="rgb(0,0,0)" />
<rect x="60.33" y="480.8" width="8.38" height="1.2" fill="rgb(0,0,0)" />
<rect x="68.3" y="480.8" width="8.38" height="1.2" fill="rgb(0,0,0)" />
<rect x="76.28" y="480.8" width="8.38" height="1.2" fill="rgb(0,0,0)" />
<rect x="84.25" y="480.8" width="8.38" height="1.2" fill="rgb(0,0,0)" />
<rect x="92.22" y="480.8" width="8.38" height="1.2" fill="rgb(0,0,0)" />
<rect x="103.5" y="480.8" width="8.38" height="1.2" fill="rgb(0,0,0)" />
<rect x="111.47" y="480.8" width="8.38" height="1.2" fill="rgb(0,0,0)" />
<rect x="119.45" y="480.8" width="8.38" height="1.2" fill="rgb(0,0,0)" />
<rect x="127.43" y="480.8" width="8.38" height="1.2" fill="rgb(0,0,0)" />
<rect x="135.4" y="480.8" width="8.38" height="1.2" fill="rgb(0,0,0)" />
<rect x="143.38" y="480.8" width="8.38" height="1.2" fill="rgb(0,0,0)" />
<rect x="151.35" y="480.8" width="8.38" height="1.2" fill="rgb(0,0,0)" />
<rect x="159.33" y="480.8" width="8.38" height="1.2" fill="rgb(0,0,0)" />
<rect x="171.4" y="480.8" width="8.13" height="1.2" fill="rgb(0,0,0)" />
<rect x="179.12" y="480.8" width="8.13" height="1.2" fill="rgb(0,0,0)" />
<rect x="186.85" y="480.8" width="8.13" height="1.2" fill="rgb(0,0,0)" />
<rect x="194.58" y="480.8" width="8.13" height="1.2" fill="rgb(0,0,0)" />
<rect x="206.9" y="480.8" width="8.42" height="1.2" fill="rgb(0,0,0)" />
<rect x="214.92" y="480.8" width="8.42" height="1.2" fill="rgb(0,0,0)" />
<rect x="222.93" y="480.8" width="8.42" height="1.2" fill="rgb(0,0,0)" />
<rect x="230.95" y="480.8" width="8.42" height="1.2" fill="rgb(0,0,0)" />
<rect x="238.97" y="480.8" width="8.42" height="1.2" fill="rgb(0,0,0)" />
<rect x="246.98" y="480.8" width="8.42" height="1.2" fill="rgb(0,0,0)" />
<rect x="36.4" y="482" width="8.38" height="1.6" fill="rgb(0,0,0)" />
<rect x="44.38" y="482" width="8.38" height="1.6" fill="rgb(230,230,230)" />
<rect x="52.35" y="482" width="8.38" height="1.6" fill="rgb(204,204,204)" />
<rect x="60.33" y="482" width="8.38" height="1.6" fill="rgb(178,178,178)" />
<rect x="68.3" y="482" width="8.38" height="1.6" fill="rgb(178,178,178)" />
<rect x="76.28" y="482" width="8.38" height="1.6" fill="rgb(230,230,230)" />
<rect x="84.25" y="482" width="8.38" height="1.6" fill="rgb(178,178,178)" />
<rect x="92.22" y="482" width="8.38" height="1.6" fill="rgb(178,178,178)" />
<rect x="103.5" y="482" width="8.38" height="1.6" fill="rgb(25,25,25)" />
<rect x="111.47" y="482" width="8.38" height="1.6" fill="rgb(25,25,25)" />
<rect x="119.45" y="482" width="8.38" height="1.6" fill="rgb(204,204,204)" />
<rect x="127.43" y="482" width="8.38" height="1.6" fill="rgb(178,178,178)" />
<rect x="135.4" y="482" width="8.38" height="1.6" fill="rgb(178,178,178)" />
<rect x="143.38" y="482" width="8.38" height="1.6" fill="rgb(204,204,204)" />
<rect x="151.35" y="482" width="8.38" height="1.6" fill="rgb(204,204,204)" />
<rect x="159.33" y="482" width="8.38" height="1.6" fill="rgb(25,25,25)" />
<rect x="186.85" y="482" width="8.13" height="1.6" fill="rgb(0,0,0)" />
<rect x="206.9" y="482" width="8.42" height="1.6" fill="rgb(25,25,25)" />
<rect x="214.92" y="482" width="8.42" height="1.6" fill="rgb(128,128,128)" />
<rect x="222.93" y="482" width="8.42" height="1.6" fill="rgb(153,153,153)" />
<rect x="230.95" y="482" width="8.42" height="1.6" fill="rgb(153,153,153)" />
<rect x="238.97" y="482" width="8.42" height="1.6" fill="rgb(25,25,25)" />
<rect x="246.98" y="482" width="8.42" height="1.6" fill="rgb(204,204,204)" />
<rect x="36.4" y="483.6" width="8.38" height="3" fill="rgb(0,0,0)" />
<rect x="44.38" y="483.6" width="8.38" height="3" fill="rgb(0,0,0)" />
<rect x="52.35" y="483.6" width="8.38" height="3" fill="rgb(0,0,0)" />
<rect x="60.33" y="483.6" width="8.38" height="3" fill="rgb(0,0,0)" />
<rect x="68.3" y="483.6" width="8.38" height="3" fill="rgb(0,0,0)" />
<rect x="76.28" y="483.6" width="8.38" height="3" fill="rgb(0,0,0)" />
<rect x="84.25" y="483.6" width="8.38" height="3" fill="rgb(0,0,0)" />
<rect x="92.22" y="483.6" width="8.38" height="3" fill="rgb(0,0,0)" />
<rect x="103.5" y="483.6" width="8.38" height="3" fill="rgb(0,0,0)" />
<rect x="111.47" y="483.6" width="8.38" height="3" fill="rgb(0,0,0)" />
<rect x="119.45" y="483.6" width="8.38" height="3" fill="rgb(0,0,0)" />
<rect x="127.43" y="483.6" width="8.38" height="3" fill="rgb(0,0,0)" />
<rect x="135.4" y="483.6" width="8.38" height="3" fill="rgb(0,0,0)" />
<rect x="143.38" y="483.6" width="8.38" height="3" fill="rgb(0,0,0)" />
<rect x="151.35" y="483.6" width="8.38" height="3" fill="rgb(0,0,0)" />
<rect x="159.33" y="483.6" width="8.38" height="3" fill="rgb(0,0,0)" />
<rect x="171.4" y="483.6" width="8.13" height="3" fill="rgb(0,0,0)" />
<rect x="179.12" y="483.6" width="8.13" height="3" fill="rgb(0,0,0)" />
<rect x="186.85" y="483.6" width="8.13" height="3" fill="rgb(0,0,0)" />
<rect x="194.58" y="483.6" width="8.13" height="3" fill="rgb(0,0,0)" />
<rect x="206.9" y="483.6" width="8.42" height="3" fill="rgb(0,0,0)" />
<rect x="214.92" y="483.6" width="8.42" height="3" fill="rgb(0,0,0)" />
<rect x="222.93" y="483.6" width="8.42" height="3" fill="rgb(0,0,0)" />
<rect x="230.95" y="483.6" width="8.42" height="3" fill="rgb(0,0,0)" />
<rect x="238.97" y="483.6" width="8.42" height="3" fill="rgb(0,0,0)" />
<rect x="246.98" y="483.6" width="8.42" height="3" fill="rgb(0,0,0)" />
<rect x="44.38" y="486.6" width="8.38" height="2" fill="rgb(0,0,0)" />
<rect x="52.35" y="486.6" width="8.38" height="2" fill="rgb(0,0,0)" />
<rect x="60.33" y="486.6" width="8.38" height="2" fill="rgb(0,0,0)" />
<rect x="68.3" y="486.6" width="8.38" height="2" fill="rgb(0,0,0)" />
<rect x="76.28" y="486.6" width="8.38" height="2" fill="rgb(0,0,0)" />
<rect x="84.25" y="486.6" width="8.38" height="2" fill="rgb(0,0,0)" />
<rect x="92.22" y="486.6" width="8.38" height="2" fill="rgb(0,0,0)" />
<rect x="103.5" y="486.6" width="8.38" height="2" fill="rgb(0,0,0)" />
<rect x="111.47" y="486.6" width="8.38" height="2" fill="rgb(0,0,0)" />
<rect x="119.45" y="486.6" width="8.38" height="2" fill="rgb(0,0,0)" />
<rect x="127.43" y="486.6" width="8.38" height="2" fill="rgb(0,0,0)" />
<rect x="135.4" y="486.6" width="8.38" height="2" fill="rgb(0,0,0)" />
<rect x="143.38" y="486.6" width="8.38" height="2" fill="rgb(0,0,0)" />
<rect x="151.35" y="486.6" width="8.38" height="2" fill="rgb(0,0,0)" />
<rect x="159.33" y="486.6" width="8.38" height="2" fill="rgb(0,0,0)" />
<rect x="171.4" y="486.6" width="8.13" height="2" fill="rgb(0,0,0)" />
<rect x="179.12" y="486.6" width="8.13" height="2" fill="rgb(230,230,230)" />
<rect x="186.85" y="486.6" width="8.13" height="2" fill="rgb(230,230,230)" />
<rect x="194.58" y="486.6" width="8.13" height="2" fill="rgb(230,230,230)" />
<rect x="206.9" y="486.6" width="8.42" height="2" fill="rgb(230,230,230)" />
<rect x="214.92" y="486.6" width="8.42" height="2" fill="rgb(230,230,230)" />
<rect x="222.93" y="486.6" width="8.42" height="2" fill="rgb(178,178,178)" />
<rect x="230.95" y="486.6" width="8.42" height="2" fill="rgb(230,230,230)" />
<rect x="238.97" y="486.6" width="8.42" height="2" fill="rgb(230,230,230)" />
<rect x="246.98" y="486.6" width="8.42" height="2" fill="rgb(230,230,230)" />
<rect x="44.38" y="488.6" width="8.38" height="1.6" fill="rgb(128,128,128)" />
<rect x="52.35" y="488.6" width="8.38" height="1.6" fill="rgb(0,0,0)" />
<rect x="60.33" y="488.6" width="8.38" height="1.6" fill="rgb(0,0,0)" />
<rect x="68.3" y="488.6" width="8.38" height="1.6" fill="rgb(0,0,0)" />
<rect x="76.28" y="488.6" width="8.38" height="1.6" fill="rgb(0,0,0)" />
<rect x="84.25" y="488.6" width="8.38" height="1.6" fill="rgb(128,128,128)" />
<rect x="92.22" y="488.6" width="8.38" height="1.6" fill="rgb(0,0,0)" />
<rect x="103.5" y="488.6" width="8.38" height="1.6" fill="rgb(0,0,0)" />
<rect x="111.47" y="488.6" width="8.38" height="1.6" fill="rgb(0,0,0)" />
<rect x="119.45" y="488.6" width="8.38" height="1.6" fill="rgb(102,102,102)" />
<rect x="127.43" y="488.6" width="8.38" height="1.6" fill="rgb(230,230,230)" />
<rect x="135.4" y="488.6" width="8.38" height="1.6" fill="rgb(230,230,230)" />
<rect x="143.38" y="488.6" width="8.38" height="1.6" fill="rgb(102,102,102)" />
<rect x="151.35" y="488.6" width="8.38" height="1.6" fill="rgb(0,0,0)" />
<rect x="159.33" y="488.6" width="8.38" height="1.6" fill="rgb(102,102,102)" />
<rect x="171.4" y="488.6" width="8.13" height="1.6" fill="rgb(178,178,178)" />
<rect x="206.9" y="488.6" width="8.42" height="1.6" fill="rgb(230,230,230)" />
<rect x="214.92" y="488.6" width="8.42" height="1.6" fill="rgb(230,230,230)" />
<rect x="222.93" y="488.6" width="8.42" height="1.6" fill="rgb(230,230,230)" />
<rect x="230.95" y="488.6" width="8.42" height="1.6" fill="rgb(230,230,230)" />
<rect x="238.97" y="488.6" width="8.42" height="1.6" fill="rgb(230,230,230)" />
<rect x="246.98" y="488.6" width="8.42" height="1.6" fill="rgb(230,230,230)" />
<rect x="36.4" y="490.2" width="8.38" height="4.8" fill="rgb(0,0,0)" />
<rect x="44.38" y="490.2" width="8.38" height="4.8" fill="rgb(0,0,0)" />
<rect x="52.35" y="490.2" width="8.38" height="4.8" fill="rgb(0,0,0)" />
<rect x="60.33" y="490.2" width="8.38" height="4.8" fill="rgb(0,0,0)" />
<rect x="68.3" y="490.2" width="8.38" height="4.8" fill="rgb(0,0,0)" />
<rect x="76.28" y="490.2" width="8.38" height="4.8" fill="rgb(0,0,0)" />
<rect x="84.25" y="490.2" width="8.38" height="4.8" fill="rgb(0,0,0)" />
<rect x="92.22" y="490.2" width="8.38" height="4.8" fill="rgb(0,0,0)" />
<rect x="103.5" y="490.2" width="8.38" height="4.8" fill="rgb(0,0,0)" />
<rect x="111.47" y="490.2" width="8.38" height="4.8" fill="rgb(0,0,0)" />
<rect x="119.45" y="490.2" width="8.38" height="4.8" fill="rgb(0,0,0)" />
<rect x="127.43" y="490.2" width="8.38" height="4.8" fill="rgb(0,0,0)" />
<rect x="135.4" y="490.2" width="8.38" height="4.8" fill="rgb(0,0,0)" />
<rect x="143.38" y="490.2" width="8.38" height="4.8" fill="rgb(0,0,0)" />
<rect x="151.35" y="490.2" width="8.38" height="4.8" fill="rgb(0,0,0)" />
<rect x="159.33" y="490.2" width="8.38" height="4.8" fill="rgb(0,0,0)" />
<rect x="171.4" y="490.2" width="8.13" height="4.8" fill="rgb(0,0,0)" />
<rect x="179.12" y="490.2" width="8.13" height="4.8" fill="rgb(0,0,0)" />
<rect x="186.85" y="490.2" width="8.13" height="4.8" fill="rgb(0,0,0)" />
<rect x="194.58" y="490.2" width="8.13" height="4.8" fill="rgb(0,0,0)" />
<rect x="206.9" y="490.2" width="8.42" height="4.8" fill="rgb(0,0,0)" />
<rect x="214.92" y="490.2" width="8.42" height="4.8" fill="rgb(0,0,0)" />
<rect x="222.93" y="490.2" width="8.42" height="4.8" fill="rgb(0,0,0)" />
<rect x="230.95" y="490.2" width="8.42" height="4.8" fill="rgb(0,0,0)" />
<rect x="238.97" y="490.2" width="8.42" height="4.8" fill="rgb(0,0,0)" />
<rect x="246.98" y="490.2" width="8.42" height="4.8" fill="rgb(0,0,0)" />
<rect x="36.4" y="504.3" width="8.38" height="1" fill="rgb(178,178,178)" />
<rect x="52.35" y="504.3" width="8.38" height="1" fill="rgb(230,230,230)" />
<rect x="60.33" y="504.3" width="8.38" height="1" fill="rgb(230,230,230)" />
<rect x="68.3" y="504.3" width="8.38" height="1" fill="rgb(178,178,178)" />
<rect x="76.28" y="504.3" width="8.38" height="1" fill="rgb(230,230,230)" />
<rect x="84.25" y="504.3" width="8.38" height="1" fill="rgb(204,204,204)" />
<rect x="92.22" y="504.3" width="8.38" height="1" fill="rgb(204,204,204)" />
<rect x="103.5" y="504.3" width="8.38" height="1" fill="rgb(178,178,178)" />
<rect x="111.47" y="504.3" width="8.38" height="1" fill="rgb(204,204,204)" />
<rect x="127.43" y="504.3" width="8.38" height="1" fill="rgb(178,178,178)" />
<rect x="135.4" y="504.3" width="8.38" height="1" fill="rgb(230,230,230)" />
<rect x="151.35" y="504.3" width="8.38" height="1" fill="rgb(204,204,204)" />
<rect x="159.33" y="504.3" width="8.38" height="1" fill="rgb(230,230,230)" />
<rect x="246.98" y="504.3" width="8.42" height="1" fill="rgb(230,230,230)" />
<rect x="44.38" y="508" width="8.38" height="1" fill="rgb(178,178,178)" />
<rect x="52.35" y="508" width="8.38" height="1" fill="rgb(230,230,230)" />
<rect x="68.3" y="508" width="8.38" height="1" fill="rgb(230,230,230)" />
<rect x="84.25" y="508" width="8.38" height="1" fill="rgb(230,230,230)" />
<rect x="92.22" y="508" width="8.38" height="1" fill="rgb(230,230,230)" />
<rect x="119.45" y="508" width="8.38" height="1" fill="rgb(230,230,230)" />
<rect x="135.4" y="508" width="8.38" height="1" fill="rgb(230,230,230)" />
<rect x="143.38" y="508" width="8.38" height="1" fill="rgb(230,230,230)" />
<rect x="151.35" y="508" width="8.38" height="1" fill="rgb(178,178,178)" />
<rect x="36.4" y="509.5" width="8.38" height="3" fill="rgb(204,204,204)" />
<rect x="44.38" y="509.5" width="8.38" height="3" fill="rgb(77,77,77)" />
<rect x="52.35" y="509.5" width="8.38" height="3" fill="rgb(204,204,204)" />
<rect x="60.33" y="509.5" width="8.38" height="3" fill="rgb(153,153,153)" />
<rect x="68.3" y="509.5" width="8.38" height="3" fill="rgb(128,128,128)" />
<rect x="76.28" y="509.5" width="8.38" height="3" fill="rgb(153,153,153)" />
<rect x="84.25" y="509.5" width="8.38" height="3" fill="rgb(77,77,77)" />
<rect x="92.22" y="509.5" width="8.38" height="3" fill="rgb(153,153,153)" />
<rect x="103.5" y="509.5" width="8.38" height="3" fill="rgb(0,0,0)" />
<rect x="111.47" y="509.5" width="8.38" height="3" fill="rgb(0,0,0)" />
<rect x="119.45" y="509.5" width="8.38" height="3" fill="rgb(230,230,230)" />
<rect x="127.43" y="509.5" width="8.38" height="3" fill="rgb(230,230,230)" />
<rect x="135.4" y="509.5" width="8.38" height="3" fill="rgb(0,0,0)" />
<rect x="143.38" y="509.5" width="8.38" height="3" fill="rgb(242,242,242)" />
<rect x="151.35" y="509.5" width="8.38" height="3" fill="rgb(0,0,0)" />
<rect x="159.33" y="509.5" width="8.38" height="3" fill="rgb(153,153,153)" />
<rect x="238.97" y="509.5" width="8.42" height="3" fill="rgb(204,204,204)" />
<rect x="246.98" y="509.5" width="8.42" height="3" fill="rgb(230,230,230)" />
<rect x="171.4" y="511.5" width="8.13" height="1.2" fill="rgb(77,77,77)" />
<rect x="36.4" y="513.2" width="8.38" height="1.5" fill="rgb(0,0,0)" />
<rect x="44.38" y="513.2" width="8.38" height="1.5" fill="rgb(230,230,230)" />
<rect x="52.35" y="513.2" width="8.38" height="1.5" fill="rgb(230,230,230)" />
<rect x="60.33" y="513.2" width="8.38" height="1.5" fill="rgb(230,230,230)" />
<rect x="68.3" y="513.2" width="8.38" height="1.5" fill="rgb(153,153,153)" />
<rect x="76.28" y="513.2" width="8.38" height="1.5" fill="rgb(230,230,230)" />
<rect x="84.25" y="513.2" width="8.38" height="1.5" fill="rgb(230,230,230)" />
<rect x="92.22" y="513.2" width="8.38" height="1.5" fill="rgb(230,230,230)" />
<rect x="103.5" y="513.2" width="8.38" height="1.5" fill="rgb(128,128,128)" />
<rect x="111.47" y="513.2" width="8.38" height="1.5" fill="rgb(178,178,178)" />
<rect x="127.43" y="513.2" width="8.38" height="1.5" fill="rgb(230,230,230)" />
<rect x="143.38" y="513.2" width="8.38" height="1.5" fill="rgb(178,178,178)" />
<rect x="151.35" y="513.2" width="8.38" height="1.5" fill="rgb(204,204,204)" />
<rect x="159.33" y="513.2" width="8.38" height="1.5" fill="rgb(230,230,230)" />
<rect x="238.97" y="513.2" width="8.42" height="1.5" fill="rgb(178,178,178)" />
<rect x="246.98" y="513.2" width="8.42" height="1.5" fill="rgb(230,230,230)" />
<rect x="36.4" y="517" width="8.38" height="1.5" fill="rgb(0,0,0)" />
<rect x="52.35" y="517" width="8.38" height="1.5" fill="rgb(204,204,204)" />
<rect x="60.33" y="517" width="8.38" height="1.5" fill="rgb(204,204,204)" />
<rect x="68.3" y="517" width="8.38" height="1.5" fill="rgb(178,178,178)" />
<rect x="76.28" y="517" width="8.38" height="1.5" fill="rgb(230,230,230)" />
<rect x="84.25" y="517" width="8.38" height="1.5" fill="rgb(230,230,230)" />
<rect x="92.22" y="517" width="8.38" height="1.5" fill="rgb(204,204,204)" />
<rect x="103.5" y="517" width="8.38" height="1.5" fill="rgb(178,178,178)" />
<rect x="111.47" y="517" width="8.38" height="1.5" fill="rgb(178,178,178)" />
<rect x="119.45" y="517" width="8.38" height="1.5" fill="rgb(242,242,242)" />
<rect x="127.43" y="517" width="8.38" height="1.5" fill="rgb(178,178,178)" />
<rect x="135.4" y="517" width="8.38" height="1.5" fill="rgb(128,128,128)" />
<rect x="143.38" y="517" width="8.38" height="1.5" fill="rgb(230,230,230)" />
<rect x="238.97" y="517" width="8.42" height="1.5" fill="rgb(153,153,153)" />
<rect x="246.98" y="517" width="8.42" height="1.5" fill="rgb(230,230,230)" />
<rect x="206.9" y="519" width="8.42" height="1.2" fill="rgb(102,102,102)" />
<rect x="36.4" y="527" width="8.38" height="1" fill="rgb(235,235,235)" />
<rect x="44.38" y="527" width="8.38" height="1" fill="rgb(235,235,235)" />
<rect x="52.35" y="527" width="8.38" height="1" fill="rgb(235,235,235)" />
<rect x="60.33" y="527" width="8.38" height="1" fill="rgb(235,235,235)" />
<rect x="68.3" y="527" width="8.38" height="1" fill="rgb(235,235,235)" />
<rect x="76.28" y="527" width="8.38" height="1" fill="rgb(235,235,235)" />
<rect x="84.25" y="527" width="8.38" height="1" fill="rgb(235,235,235)" />
<rect x="92.22" y="527" width="8.38" height="1" fill="rgb(235,235,235)" />
<rect x="103.5" y="527" width="8.38" height="1" fill="rgb(242,242,242)" />
<rect x="111.47" y="527" width="8.38" height="1" fill="rgb(242,242,242)" />
<rect x="119.45" y="527" width="8.38" height="1" fill="rgb(242,242,242)" />
<rect x="127.43" y="527" width="8.38" height="1" fill="rgb(242,242,242)" />
<rect x="135.4" y="527" width="8.38" height="1" fill="rgb(242,242,242)" />
<rect x="143.38" y="527" width="8.38" height="1" fill="rgb(242,242,242)" />
<rect x="151.35" y="527" width="8.38" height="1" fill="rgb(242,242,242)" />
<rect x="159.33" y="527" width="8.38" height="1" fill="rgb(242,242,242)" />
<rect x="36.4" y="541" width="8.38" height="1" fill="rgb(204,204,204)" />
<rect x="60.33" y="541" width="8.38" height="1" fill="rgb(230,230,230)" />
<rect x="68.3" y="541" width="8.38" height="1" fill="rgb(204,204,204)" />
<rect x="92.22" y="541" width="8.38" height="1" fill="rgb(230,230,230)" />
<rect x="103.5" y="541" width="8.38" height="1" fill="rgb(235,235,235)" />
<rect x="111.47" y="541" width="8.38" height="1" fill="rgb(235,235,235)" />
<rect x="119.45" y="541" width="8.38" height="1" fill="rgb(235,235,235)" />
<rect x="127.43" y="541" width="8.38" height="1" fill="rgb(235,235,235)" />
<rect x="135.4" y="541" width="8.38" height="1" fill="rgb(235,235,235)" />
<rect x="143.38" y="541" width="8.38" height="1" fill="rgb(235,235,235)" />
<rect x="151.35" y="541" width="8.38" height="1" fill="rgb(235,235,235)" />
<rect x="159.33" y="541" width="8.38" height="1" fill="rgb(235,235,235)" />
<rect x="214.92" y="541" width="8.42" height="1" fill="rgb(204,204,204)" />
<rect x="36.4" y="556.6" width="8.38" height="1.2" fill="rgb(0,0,0)" />
<rect x="44.38" y="556.6" width="8.38" height="1.2" fill="rgb(204,204,204)" />
<rect x="52.35" y="556.6" width="8.38" height="1.2" fill="rgb(204,204,204)" />
<rect x="60.33" y="556.6" width="8.38" height="1.2" fill="rgb(204,204,204)" />
<rect x="68.3" y="556.6" width="8.38" height="1.2" fill="rgb(178,178,178)" />
<rect x="76.28" y="556.6" width="8.38" height="1.2" fill="rgb(204,204,204)" />
<rect x="84.25" y="556.6" width="8.38" height="1.2" fill="rgb(204,204,204)" />
<rect x="92.22" y="556.6" width="8.38" height="1.2" fill="rgb(204,204,204)" />
<rect x="103.5" y="556.6" width="8.38" height="1.2" fill="rgb(204,204,204)" />
<rect x="111.47" y="556.6" width="8.38" height="1.2" fill="rgb(204,204,204)" />
<rect x="119.45" y="556.6" width="8.38" height="1.2" fill="rgb(204,204,204)" />
<rect x="127.43" y="556.6" width="8.38" height="1.2" fill="rgb(204,204,204)" />
<rect x="135.4" y="556.6" width="8.38" height="1.2" fill="rgb(204,204,204)" />
<rect x="143.38" y="556.6" width="8.38" height="1.2" fill="rgb(204,204,204)" />
<rect x="151.35" y="556.6" width="8.38" height="1.2" fill="rgb(204,204,204)" />
<rect x="159.33" y="556.6" width="8.38" height="1.2" fill="rgb(204,204,204)" />
<rect x="194.58" y="556.6" width="8.13" height="1.2" fill="rgb(204,204,204)" />
<rect x="206.9" y="556.6" width="8.42" height="1.2" fill="rgb(204,204,204)" />
<rect x="214.92" y="556.6" width="8.42" height="1.2" fill="rgb(204,204,204)" />
<rect x="222.93" y="556.6" width="8.42" height="1.2" fill="rgb(178,178,178)" />
<rect x="230.95" y="556.6" width="8.42" height="1.2" fill="rgb(204,204,204)" />
<rect x="238.97" y="556.6" width="8.42" height="1.2" fill="rgb(204,204,204)" />
<rect x="246.98" y="556.6" width="8.42" height="1.2" fill="rgb(204,204,204)" />
<rect x="36.4" y="566" width="8.38" height="1" fill="rgb(235,235,235)" />
<rect x="44.38" y="566" width="8.38" height="1" fill="rgb(235,235,235)" />
<rect x="52.35" y="566" width="8.38" height="1" fill="rgb(235,235,235)" />
<rect x="60.33" y="566" width="8.38" height="1" fill="rgb(235,235,235)" />
<rect x="68.3" y="566" width="8.38" height="1" fill="rgb(235,235,235)" />
<rect x="76.28" y="566" width="8.38" height="1" fill="rgb(235,235,235)" />
<rect x="84.25" y="566" width="8.38" height="1" fill="rgb(235,235,235)" />
<rect x="92.22" y="566" width="8.38" height="1" fill="rgb(235,235,235)" />
<rect x="103.5" y="566" width="8.38" height="1" fill="rgb(235,235,235)" />
<rect x="111.47" y="566" width="8.38" height="1" fill="rgb(235,235,235)" />
<rect x="119.45" y="566" width="8.38" height="1" fill="rgb(235,235,235)" />
<rect x="127.43" y="566" width="8.38" height="1" fill="rgb(235,235,235)" />
<rect x="135.4" y="566" width="8.38" height="1" fill="rgb(235,235,235)" />
<rect x="143.38" y="566" width="8.38" height="1" fill="rgb(235,235,235)" />
<rect x="151.35" y="566" width="8.38" height="1" fill="rgb(235,235,235)" />
<rect x="159.33" y="566" width="8.38" height="1" fill="rgb(235,235,235)" />
<rect x="36.4" y="589.8" width="8.38" height="1.4" fill="rgb(230,230,230)" />
<rect x="44.38" y="589.8" width="8.38" height="1.4" fill="rgb(115,115,115)" />
<rect x="52.35" y="589.8" width="8.38" height="1.4" fill="rgb(140,140,140)" />
<rect x="60.33" y="589.8" width="8.38" height="1.4" fill="rgb(140,140,140)" />
<rect x="68.3" y="589.8" width="8.38" height="1.4" fill="rgb(128,128,128)" />
<rect x="76.28" y="589.8" width="8.38" height="1.4" fill="rgb(115,115,115)" />
<rect x="84.25" y="589.8" width="8.38" height="1.4" fill="rgb(115,115,115)" />
<rect x="92.22" y="589.8" width="8.38" height="1.4" fill="rgb(128,128,128)" />
<rect x="103.5" y="589.8" width="8.38" height="1.4" fill="rgb(153,153,153)" />
<rect x="111.47" y="589.8" width="8.38" height="1.4" fill="rgb(178,178,178)" />
<rect x="119.45" y="589.8" width="8.38" height="1.4" fill="rgb(178,178,178)" />
<rect x="127.43" y="589.8" width="8.38" height="1.4" fill="rgb(128,128,128)" />
<rect x="135.4" y="589.8" width="8.38" height="1.4" fill="rgb(128,128,128)" />
<rect x="143.38" y="589.8" width="8.38" height="1.4" fill="rgb(166,166,166)" />
<rect x="151.35" y="589.8" width="8.38" height="1.4" fill="rgb(140,140,140)" />
<rect x="159.33" y="589.8" width="8.38" height="1.4" fill="rgb(153,153,153)" />
<rect x="171.4" y="589.8" width="8.13" height="1.4" fill="rgb(0,0,0)" />
<rect x="186.85" y="589.8" width="8.13" height="1.4" fill="rgb(204,204,204)" />
<rect x="194.58" y="589.8" width="8.13" height="1.4" fill="rgb(0,0,0)" />
<rect x="206.9" y="589.8" width="8.42" height="1.4" fill="rgb(178,178,178)" />
<rect x="214.92" y="589.8" width="8.42" height="1.4" fill="rgb(178,178,178)" />
<rect x="222.93" y="589.8" width="8.42" height="1.4" fill="rgb(178,178,178)" />
<rect x="230.95" y="589.8" width="8.42" height="1.4" fill="rgb(204,204,204)" />
<rect x="238.97" y="589.8" width="8.42" height="1.4" fill="rgb(191,191,191)" />
<rect x="246.98" y="589.8" width="8.42" height="1.4" fill="rgb(191,191,191)" />
<rect x="36.4" y="600.8" width="8.38" height="1.6" fill="rgb(0,0,0)" />
<rect x="44.38" y="600.8" width="8.38" height="1.6" fill="rgb(77,77,77)" />
<rect x="52.35" y="600.8" width="8.38" height="1.6" fill="rgb(0,0,0)" />
<rect x="60.33" y="600.8" width="8.38" height="1.6" fill="rgb(0,0,0)" />
<rect x="68.3" y="600.8" width="8.38" height="1.6" fill="rgb(25,25,25)" />
<rect x="76.28" y="600.8" width="8.38" height="1.6" fill="rgb(0,0,0)" />
<rect x="84.25" y="600.8" width="8.38" height="1.6" fill="rgb(0,0,0)" />
<rect x="92.22" y="600.8" width="8.38" height="1.6" fill="rgb(0,0,0)" />
<rect x="103.5" y="600.8" width="8.38" height="1.6" fill="rgb(0,0,0)" />
<rect x="111.47" y="600.8" width="8.38" height="1.6" fill="rgb(0,0,0)" />
<rect x="119.45" y="600.8" width="8.38" height="1.6" fill="rgb(0,0,0)" />
<rect x="127.43" y="600.8" width="8.38" height="1.6" fill="rgb(0,0,0)" />
<rect x="135.4" y="600.8" width="8.38" height="1.6" fill="rgb(0,0,0)" />
<rect x="143.38" y="600.8" width="8.38" height="1.6" fill="rgb(0,0,0)" />
<rect x="151.35" y="600.8" width="8.38" height="1.6" fill="rgb(102,102,102)" />
<rect x="159.33" y="600.8" width="8.38" height="1.6" fill="rgb(204,204,204)" />
<rect x="171.4" y="600.8" width="8.13" height="1.6" fill="rgb(0,0,0)" />
<rect x="179.12" y="600.8" width="8.13" height="1.6" fill="rgb(0,0,0)" />
<rect x="186.85" y="600.8" width="8.13" height="1.6" fill="rgb(0,0,0)" />
<rect x="194.58" y="600.8" width="8.13" height="1.6" fill="rgb(0,0,0)" />
<rect x="206.9" y="600.8" width="8.42" height="1.6" fill="rgb(0,0,0)" />
<rect x="214.92" y="600.8" width="8.42" height="1.6" fill="rgb(0,0,0)" />
<rect x="222.93" y="600.8" width="8.42" height="1.6" fill="rgb(0,0,0)" />
<rect x="230.95" y="600.8" width="8.42" height="1.6" fill="rgb(0,0,0)" />
<rect x="238.97" y="600.8" width="8.42" height="1.6" fill="rgb(0,0,0)" />
<rect x="246.98" y="600.8" width="8.42" height="1.6" fill="rgb(0,0,0)" />
<rect x="36.4" y="602.4" width="8.38" height="2.2" fill="rgb(178,178,178)" />
<rect x="44.38" y="602.4" width="8.38" height="2.2" fill="rgb(204,204,204)" />
<rect x="52.35" y="602.4" width="8.38" height="2.2" fill="rgb(0,0,0)" />
<rect x="60.33" y="602.4" width="8.38" height="2.2" fill="rgb(102,102,102)" />
<rect x="68.3" y="602.4" width="8.38" height="2.2" fill="rgb(128,128,128)" />
<rect x="76.28" y="602.4" width="8.38" height="2.2" fill="rgb(128,128,128)" />
<rect x="84.25" y="602.4" width="8.38" height="2.2" fill="rgb(0,0,0)" />
<rect x="92.22" y="602.4" width="8.38" height="2.2" fill="rgb(25,25,25)" />
<rect x="103.5" y="602.4" width="8.38" height="2.2" fill="rgb(0,0,0)" />
<rect x="111.47" y="602.4" width="8.38" height="2.2" fill="rgb(0,0,0)" />
<rect x="119.45" y="602.4" width="8.38" height="2.2" fill="rgb(102,102,102)" />
<rect x="127.43" y="602.4" width="8.38" height="2.2" fill="rgb(0,0,0)" />
<rect x="135.4" y="602.4" width="8.38" height="2.2" fill="rgb(0,0,0)" />
<rect x="143.38" y="602.4" width="8.38" height="2.2" fill="rgb(25,25,25)" />
<rect x="151.35" y="602.4" width="8.38" height="2.2" fill="rgb(128,128,128)" />
<rect x="159.33" y="602.4" width="8.38" height="2.2" fill="rgb(230,230,230)" />
<rect x="238.97" y="602.4" width="8.42" height="2.2" fill="rgb(77,77,77)" />
<rect x="36.4" y="606.8" width="8.38" height="1.1" fill="rgb(178,178,178)" />
<rect x="44.38" y="606.8" width="8.38" height="1.1" fill="rgb(230,230,230)" />
<rect x="52.35" y="606.8" width="8.38" height="1.1" fill="rgb(25,25,25)" />
<rect x="60.33" y="606.8" width="8.38" height="1.1" fill="rgb(153,153,153)" />
<rect x="68.3" y="606.8" width="8.38" height="1.1" fill="rgb(178,178,178)" />
<rect x="76.28" y="606.8" width="8.38" height="1.1" fill="rgb(178,178,178)" />
<rect x="84.25" y="606.8" width="8.38" height="1.1" fill="rgb(102,102,102)" />
<rect x="92.22" y="606.8" width="8.38" height="1.1" fill="rgb(178,178,178)" />
<rect x="103.5" y="606.8" width="8.38" height="1.1" fill="rgb(25,25,25)" />
<rect x="111.47" y="606.8" width="8.38" height="1.1" fill="rgb(178,178,178)" />
<rect x="119.45" y="606.8" width="8.38" height="1.1" fill="rgb(178,178,178)" />
<rect x="127.43" y="606.8" width="8.38" height="1.1" fill="rgb(25,25,25)" />
<rect x="135.4" y="606.8" width="8.38" height="1.1" fill="rgb(102,102,102)" />
<rect x="143.38" y="606.8" width="8.38" height="1.1" fill="rgb(102,102,102)" />
<rect x="151.35" y="606.8" width="8.38" height="1.1" fill="rgb(25,25,25)" />
<rect x="159.33" y="606.8" width="8.38" height="1.1" fill="rgb(230,230,230)" />
<rect x="246.98" y="606.8" width="8.42" height="1.1" fill="rgb(178,178,178)" />
<rect x="52.35" y="610" width="8.38" height="1" fill="rgb(178,178,178)" />
<rect x="60.33" y="610" width="8.38" height="1" fill="rgb(204,204,204)" />
<rect x="68.3" y="610" width="8.38" height="1" fill="rgb(230,230,230)" />
<rect x="76.28" y="610" width="8.38" height="1" fill="rgb(230,230,230)" />
<rect x="84.25" y="610" width="8.38" height="1" fill="rgb(230,230,230)" />
<rect x="92.22" y="610" width="8.38" height="1" fill="rgb(230,230,230)" />
<rect x="111.47" y="610" width="8.38" height="1" fill="rgb(204,204,204)" />
<rect x="135.4" y="610" width="8.38" height="1" fill="rgb(204,204,204)" />
<rect x="36.4" y="621.5" width="8.38" height="1.3" fill="rgb(0,0,0)" />
<rect x="44.38" y="621.5" width="8.38" height="1.3" fill="rgb(0,0,0)" />
<rect x="52.35" y="621.5" width="8.38" height="1.3" fill="rgb(0,0,0)" />
<rect x="60.33" y="621.5" width="8.38" height="1.3" fill="rgb(0,0,0)" />
<rect x="68.3" y="621.5" width="8.38" height="1.3" fill="rgb(0,0,0)" />
<rect x="76.28" y="621.5" width="8.38" height="1.3" fill="rgb(0,0,0)" />
<rect x="84.25" y="621.5" width="8.38" height="1.3" fill="rgb(0,0,0)" />
<rect x="92.22" y="621.5" width="8.38" height="1.3" fill="rgb(0,0,0)" />
<rect x="103.5" y="621.5" width="8.38" height="1.3" fill="rgb(0,0,0)" />
<rect x="111.47" y="621.5" width="8.38" height="1.3" fill="rgb(0,0,0)" />
<rect x="119.45" y="621.5" width="8.38" height="1.3" fill="rgb(0,0,0)" />
<rect x="127.43" y="621.5" width="8.38" height="1.3" fill="rgb(0,0,0)" />
<rect x="135.4" y="621.5" width="8.38" height="1.3" fill="rgb(0,0,0)" />
<rect x="143.38" y="621.5" width="8.38" height="1.3" fill="rgb(0,0,0)" />
<rect x="151.35" y="621.5" width="8.38" height="1.3" fill="rgb(153,153,153)" />
<rect x="159.33" y="621.5" width="8.38" height="1.3" fill="rgb(178,178,178)" />
<rect x="179.12" y="621.5" width="8.13" height="1.3" fill="rgb(0,0,0)" />
<rect x="206.9" y="621.5" width="8.42" height="1.3" fill="rgb(153,153,153)" />
<rect x="222.93" y="621.5" width="8.42" height="1.3" fill="rgb(0,0,0)" />
<rect x="238.97" y="621.5" width="8.42" height="1.3" fill="rgb(0,0,0)" />
<rect x="246.98" y="621.5" width="8.42" height="1.3" fill="rgb(128,128,128)" />
<rect x="36.4" y="627" width="8.38" height="1.2" fill="rgb(153,153,153)" />
<rect x="44.38" y="627" width="8.38" height="1.2" fill="rgb(153,153,153)" />
<rect x="52.35" y="627" width="8.38" height="1.2" fill="rgb(230,230,230)" />
<rect x="60.33" y="627" width="8.38" height="1.2" fill="rgb(204,204,204)" />
<rect x="68.3" y="627" width="8.38" height="1.2" fill="rgb(178,178,178)" />
<rect x="76.28" y="627" width="8.38" height="1.2" fill="rgb(178,178,178)" />
<rect x="84.25" y="627" width="8.38" height="1.2" fill="rgb(230,230,230)" />
<rect x="92.22" y="627" width="8.38" height="1.2" fill="rgb(230,230,230)" />
<rect x="103.5" y="627" width="8.38" height="1.2" fill="rgb(178,178,178)" />
<rect x="111.47" y="627" width="8.38" height="1.2" fill="rgb(178,178,178)" />
<rect x="127.43" y="627" width="8.38" height="1.2" fill="rgb(178,178,178)" />
<rect x="135.4" y="627" width="8.38" height="1.2" fill="rgb(178,178,178)" />
<rect x="159.33" y="627" width="8.38" height="1.2" fill="rgb(77,77,77)" />
<rect x="44.38" y="632" width="8.38" height="1" fill="rgb(153,153,153)" />
<rect x="68.3" y="632" width="8.38" height="1" fill="rgb(204,204,204)" />
<rect x="36.4" y="636.5" width="8.38" height="1.2" fill="rgb(0,0,0)" />
<rect x="44.38" y="636.5" width="8.38" height="1.2" fill="rgb(0,0,0)" />
<rect x="52.35" y="636.5" width="8.38" height="1.2" fill="rgb(204,204,204)" />
<rect x="60.33" y="636.5" width="8.38" height="1.2" fill="rgb(230,230,230)" />
<rect x="68.3" y="636.5" width="8.38" height="1.2" fill="rgb(178,178,178)" />
<rect x="76.28" y="636.5" width="8.38" height="1.2" fill="rgb(178,178,178)" />
<rect x="84.25" y="636.5" width="8.38" height="1.2" fill="rgb(204,204,204)" />
<rect x="92.22" y="636.5" width="8.38" height="1.2" fill="rgb(230,230,230)" />
<rect x="143.38" y="636.5" width="8.38" height="1.2" fill="rgb(204,204,204)" />
<rect x="151.35" y="636.5" width="8.38" height="1.2" fill="rgb(204,204,204)" />
<rect x="159.33" y="636.5" width="8.38" height="1.2" fill="rgb(178,178,178)" />
<rect x="238.97" y="636.5" width="8.42" height="1.2" fill="rgb(204,204,204)" />
<rect x="246.98" y="636.5" width="8.42" height="1.2" fill="rgb(204,204,204)" />
<rect x="36.4" y="644" width="8.38" height="1" fill="rgb(230,230,230)" />
<rect x="44.38" y="644" width="8.38" height="1" fill="rgb(230,230,230)" />
<rect x="52.35" y="644" width="8.38" height="1" fill="rgb(230,230,230)" />
<rect x="60.33" y="644" width="8.38" height="1" fill="rgb(204,204,204)" />
<rect x="68.3" y="644" width="8.38" height="1" fill="rgb(204,204,204)" />
<rect x="76.28" y="644" width="8.38" height="1" fill="rgb(204,204,204)" />
<rect x="84.25" y="644" width="8.38" height="1" fill="rgb(230,230,230)" />
<rect x="92.22" y="644" width="8.38" height="1" fill="rgb(230,230,230)" />
<rect x="103.5" y="644" width="8.38" height="1" fill="rgb(230,230,230)" />
<rect x="111.47" y="644" width="8.38" height="1" fill="rgb(230,230,230)" />
<rect x="119.45" y="644" width="8.38" height="1" fill="rgb(230,230,230)" />
<rect x="127.43" y="644" width="8.38" height="1" fill="rgb(230,230,230)" />
<rect x="135.4" y="644" width="8.38" height="1" fill="rgb(230,230,230)" />
<rect x="143.38" y="644" width="8.38" height="1" fill="rgb(230,230,230)" />
<rect x="151.35" y="644" width="8.38" height="1" fill="rgb(230,230,230)" />
<rect x="159.33" y="644" width="8.38" height="1" fill="rgb(230,230,230)" />
<rect x="36.4" y="647.3" width="8.38" height="1" fill="rgb(178,178,178)" />
<rect x="36.4" y="649.8" width="8.38" height="2.5" fill="rgb(0,0,0)" />
<rect x="44.38" y="649.8" width="8.38" height="2.5" fill="rgb(230,230,230)" />
<rect x="52.35" y="649.8" width="8.38" height="2.5" fill="rgb(128,128,128)" />
<rect x="60.33" y="649.8" width="8.38" height="2.5" fill="rgb(153,153,153)" />
<rect x="68.3" y="649.8" width="8.38" height="2.5" fill="rgb(153,153,153)" />
<rect x="76.28" y="649.8" width="8.38" height="2.5" fill="rgb(102,102,102)" />
<rect x="84.25" y="649.8" width="8.38" height="2.5" fill="rgb(77,77,77)" />
<rect x="92.22" y="649.8" width="8.38" height="2.5" fill="rgb(128,128,128)" />
<rect x="103.5" y="649.8" width="8.38" height="2.5" fill="rgb(153,153,153)" />
<rect x="111.47" y="649.8" width="8.38" height="2.5" fill="rgb(128,128,128)" />
<rect x="119.45" y="649.8" width="8.38" height="2.5" fill="rgb(128,128,128)" />
<rect x="127.43" y="649.8" width="8.38" height="2.5" fill="rgb(77,77,77)" />
<rect x="135.4" y="649.8" width="8.38" height="2.5" fill="rgb(0,0,0)" />
<rect x="143.38" y="649.8" width="8.38" height="2.5" fill="rgb(128,128,128)" />
<rect x="159.33" y="649.8" width="8.38" height="2.5" fill="rgb(153,153,153)" />
<rect x="194.58" y="649.8" width="8.13" height="2.5" fill="rgb(0,0,0)" />
<rect x="206.9" y="649.8" width="8.42" height="2.5" fill="rgb(230,230,230)" />
<rect x="222.93" y="649.8" width="8.42" height="2.5" fill="rgb(178,178,178)" />
<rect x="230.95" y="649.8" width="8.42" height="2.5" fill="rgb(204,204,204)" />
<rect x="238.97" y="649.8" width="8.42" height="2.5" fill="rgb(153,153,153)" />
<rect x="246.98" y="649.8" width="8.42" height="2.5" fill="rgb(230,230,230)" />
<rect x="44.38" y="652.3" width="8.38" height="1.3" fill="rgb(51,51,51)" />
<rect x="52.35" y="652.3" width="8.38" height="1.3" fill="rgb(102,102,102)" />
<rect x="60.33" y="652.3" width="8.38" height="1.3" fill="rgb(178,178,178)" />
<rect x="68.3" y="652.3" width="8.38" height="1.3" fill="rgb(153,153,153)" />
<rect x="76.28" y="652.3" width="8.38" height="1.3" fill="rgb(128,128,128)" />
<rect x="84.25" y="652.3" width="8.38" height="1.3" fill="rgb(51,51,51)" />
<rect x="92.22" y="652.3" width="8.38" height="1.3" fill="rgb(128,128,128)" />
<rect x="103.5" y="652.3" width="8.38" height="1.3" fill="rgb(204,204,204)" />
<rect x="111.47" y="652.3" width="8.38" height="1.3" fill="rgb(204,204,204)" />
<rect x="119.45" y="652.3" width="8.38" height="1.3" fill="rgb(204,204,204)" />
<rect x="127.43" y="652.3" width="8.38" height="1.3" fill="rgb(204,204,204)" />
<rect x="135.4" y="652.3" width="8.38" height="1.3" fill="rgb(178,178,178)" />
<rect x="143.38" y="652.3" width="8.38" height="1.3" fill="rgb(230,230,230)" />
<rect x="151.35" y="652.3" width="8.38" height="1.3" fill="rgb(230,230,230)" />
<rect x="159.33" y="652.3" width="8.38" height="1.3" fill="rgb(178,178,178)" />
<rect x="214.92" y="652.3" width="8.42" height="1.3" fill="rgb(230,230,230)" />
<rect x="222.93" y="652.3" width="8.42" height="1.3" fill="rgb(230,230,230)" />
<rect x="230.95" y="652.3" width="8.42" height="1.3" fill="rgb(230,230,230)" />
<rect x="238.97" y="652.3" width="8.42" height="1.3" fill="rgb(204,204,204)" />
<rect x="246.98" y="652.3" width="8.42" height="1.3" fill="rgb(178,178,178)" />
<rect x="44.38" y="656" width="8.38" height="1" fill="rgb(204,204,204)" />
<rect x="60.33" y="656" width="8.38" height="1" fill="rgb(230,230,230)" />
<rect x="68.3" y="656" width="8.38" height="1" fill="rgb(230,230,230)" />
<rect x="92.22" y="656" width="8.38" height="1" fill="rgb(204,204,204)" />
<rect x="119.45" y="656" width="8.38" height="1" fill="rgb(230,230,230)" />
<rect x="127.43" y="656" width="8.38" height="1" fill="rgb(204,204,204)" />
<rect x="135.4" y="656" width="8.38" height="1" fill="rgb(230,230,230)" />
<rect x="52.35" y="715.8" width="8.38" height="1" fill="rgb(230,230,230)" />
<rect x="60.33" y="715.8" width="8.38" height="1" fill="rgb(230,230,230)" />
<rect x="68.3" y="715.8" width="8.38" height="1" fill="rgb(230,230,230)" />
<rect x="135.4" y="715.8" width="8.38" height="1" fill="rgb(235,235,235)" />
<rect x="52.35" y="727.3" width="8.38" height="1" fill="rgb(178,178,178)" />
<rect x="60.33" y="727.3" width="8.38" height="1" fill="rgb(191,191,191)" />
<rect x="68.3" y="727.3" width="8.38" height="1" fill="rgb(191,191,191)" />
<rect x="76.28" y="727.3" width="8.38" height="1" fill="rgb(191,191,191)" />
<rect x="84.25" y="727.3" width="8.38" height="1" fill="rgb(178,178,178)" />
<rect x="92.22" y="727.3" width="8.38" height="1" fill="rgb(178,178,178)" />
<rect x="103.5" y="727.3" width="8.38" height="1" fill="rgb(191,191,191)" />
<rect x="111.47" y="727.3" width="8.38" height="1" fill="rgb(191,191,191)" />
<rect x="119.45" y="727.3" width="8.38" height="1" fill="rgb(191,191,191)" />
<rect x="127.43" y="727.3" width="8.38" height="1" fill="rgb(191,191,191)" />
<rect x="135.4" y="727.3" width="8.38" height="1" fill="rgb(178,178,178)" />
<rect x="143.38" y="727.3" width="8.38" height="1" fill="rgb(128,128,128)" />
<rect x="151.35" y="727.3" width="8.38" height="1" fill="rgb(178,178,178)" />
<rect x="159.33" y="727.3" width="8.38" height="1" fill="rgb(178,178,178)" />
<rect x="246.98" y="727.3" width="8.42" height="1" fill="rgb(230,230,230)" />
<rect x="44.38" y="746.4" width="8.38" height="1" fill="rgb(217,217,217)" />
<rect x="60.33" y="746.4" width="8.38" height="1" fill="rgb(230,230,230)" />
<rect x="159.33" y="746.4" width="8.38" height="1" fill="rgb(217,217,217)" />
<rect x="159.33" y="778" width="8.38" height="1" fill="rgb(217,217,217)" />
<rect x="44.38" y="786.4" width="8.38" height="1" fill="rgb(240,240,240)" />
<rect x="52.35" y="786.4" width="8.38" height="1" fill="rgb(240,240,240)" />
<rect x="60.33" y="786.4" width="8.38" height="1" fill="rgb(240,240,240)" />
<rect x="68.3" y="786.4" width="8.38" height="1" fill="rgb(240,240,240)" />
<rect x="76.28" y="786.4" width="8.38" height="1" fill="rgb(240,240,240)" />
<rect x="84.25" y="786.4" width="8.38" height="1" fill="rgb(240,240,240)" />
<rect x="103.5" y="786.4" width="8.38" height="1" fill="rgb(240,240,240)" />
<rect x="111.47" y="786.4" width="8.38" height="1" fill="rgb(240,240,240)" />
<rect x="119.45" y="786.4" width="8.38" height="1" fill="rgb(240,240,240)" />
<rect x="127.43" y="786.4" width="8.38" height="1" fill="rgb(240,240,240)" />
<rect x="135.4" y="786.4" width="8.38" height="1" fill="rgb(240,240,240)" />
<rect x="52.35" y="813.6" width="8.38" height="1" fill="rgb(217,217,217)" />
<rect x="60.33" y="813.6" width="8.38" height="1" fill="rgb(217,217,217)" />
<rect x="68.3" y="813.6" width="8.38" height="1" fill="rgb(217,217,217)" />
<rect x="76.28" y="813.6" width="8.38" height="1" fill="rgb(217,217,217)" />
<rect x="135.4" y="813.6" width="8.38" height="1" fill="rgb(204,204,204)" />
</g>
<rect x="36.4" y="457.4" width="63.8" height="460.4" fill="none" stroke="#111" stroke-width="1"/>
<rect x="103.5" y="457.4" width="63.8" height="460.4" fill="none" stroke="#111" stroke-width="1"/>
<rect x="171.4" y="457.4" width="30.9" height="460.4" fill="none" stroke="#111" stroke-width="1"/>
<rect x="206.9" y="457.4" width="48.1" height="460.4" fill="none" stroke="#111" stroke-width="1"/>
<circle cx="346.39" cy="450.8" r="3.5" fill="#000" stroke="#000" stroke-width="0.7"/>
<rect x="351.06" y="447.5" width="6.6" height="6.6" fill="#7468a8" stroke="#000" stroke-width="0.7"/>
<circle cx="362.34" cy="450.8" r="3.5" fill="#22ee22" stroke="#000" stroke-width="0.7"/>
<circle cx="370.31" cy="450.8" r="3.5" fill="#17974c" stroke="#000" stroke-width="0.7"/>
<circle cx="378.29" cy="450.8" r="3.5" fill="#22eef0" stroke="#000" stroke-width="0.7"/>
<polygon points="389.76,450.8 388.01,453.59 384.51,453.59 382.76,450.8 384.51,448.01 388.01,448.01" fill="#1212de" stroke="#000" stroke-width="0.7"/>
<circle cx="394.24" cy="450.8" r="3.5" fill="#ee1212" stroke="#000" stroke-width="0.7"/>
<circle cx="402.21" cy="450.8" r="3.5" fill="#d0d0d0" stroke="#000" stroke-width="0.7"/>
<polygon points="416.99,450.8 415.24,453.59 411.74,453.59 409.99,450.8 411.74,448.01 415.24,448.01" fill="#22eef0" stroke="#000" stroke-width="0.7"/>
<circle cx="421.46" cy="450.8" r="3.5" fill="#ee36ee" stroke="#000" stroke-width="0.7"/>
<polygon points="432.94,450.8 431.19,453.59 427.69,453.59 425.94,450.8 427.69,448.01 431.19,448.01" fill="#ee36ee" stroke="#000" stroke-width="0.7"/>
<circle cx="437.41" cy="450.8" r="3.5" fill="#1212de" stroke="#000" stroke-width="0.7"/>
<circle cx="445.39" cy="450.8" r="3.5" fill="#818181" stroke="#000" stroke-width="0.7"/>
<polygon points="456.86,450.8 455.11,453.59 451.61,453.59 449.86,450.8 451.61,448.01 455.11,448.01" fill="#818181" stroke="#000" stroke-width="0.7"/>
<rect x="458.04" y="447.5" width="6.6" height="6.6" fill="#1a8ba2" stroke="#000" stroke-width="0.7"/>
<rect x="466.01" y="447.5" width="6.6" height="6.6" fill="#ff9c12" stroke="#000" stroke-width="0.7"/>
<rect x="477.96" y="447.5" width="6.6" height="6.6" fill="#7a1a5c" stroke="#000" stroke-width="0.7"/>
<polygon points="492.03,450.8 485.94,447.3 485.94,454.3" fill="#ee1212" stroke="#000" stroke-width="0.7"/>
<polygon points="496.71,453.85 500.21,447.75 493.21,447.75" fill="#ee1212" stroke="#000" stroke-width="0.7"/>
<polygon points="507.48,450.8 501.39,447.3 501.39,454.3" fill="#22eef0" stroke="#000" stroke-width="0.7"/>
<polygon points="516.91,453.85 520.41,447.75 513.41,447.75" fill="#22eef0" stroke="#000" stroke-width="0.7"/>
<polygon points="524.92,447.75 528.42,453.85 521.42,453.85" fill="#ee1212" stroke="#000" stroke-width="0.7"/>
<polygon points="532.94,447.75 536.44,453.85 529.44,453.85" fill="#22eef0" stroke="#000" stroke-width="0.7"/>
<polygon points="537.91,450.8 544,447.3 544,454.3" fill="#22eef0" stroke="#000" stroke-width="0.7"/>
<polygon points="548.98,447.75 552.48,453.85 545.48,453.85" fill="#22ee22" stroke="#000" stroke-width="0.7"/>
<polygon points="556.99,447.75 560.49,453.85 553.49,453.85" fill="#1f7f9e" stroke="#000" stroke-width="0.7"/>
<g shape-rendering="crispEdges">
<rect x="350.38" y="458.6" width="8.38" height="1.2" fill="rgb(178,178,178)" />
<rect x="358.35" y="458.6" width="8.38" height="1.2" fill="rgb(166,166,166)" />
<rect x="366.32" y="458.6" width="8.38" height="1.2" fill="rgb(178,178,178)" />
<rect x="374.3" y="458.6" width="8.38" height="1.2" fill="rgb(178,178,178)" />
<rect x="382.27" y="458.6" width="8.38" height="1.2" fill="rgb(166,166,166)" />
<rect x="390.25" y="458.6" width="8.38" height="1.2" fill="rgb(25,25,25)" />
<rect x="398.22" y="458.6" width="8.38" height="1.2" fill="rgb(25,25,25)" />
<rect x="449.38" y="458.6" width="8.38" height="1.2" fill="rgb(204,204,204)" />
<rect x="457.35" y="458.6" width="8.38" height="1.2" fill="rgb(204,204,204)" />
<rect x="528.93" y="458.6" width="8.42" height="1.2" fill="rgb(230,230,230)" />
<rect x="536.95" y="458.6" width="8.42" height="1.2" fill="rgb(230,230,230)" />
<rect x="390.25" y="461.6" width="8.38" height="1" fill="rgb(178,178,178)" />
<rect x="398.22" y="461.6" width="8.38" height="1" fill="rgb(178,178,178)" />
<rect x="342.4" y="464.4" width="8.38" height="1.3" fill="rgb(25,25,25)" />
<rect x="350.38" y="464.4" width="8.38" height="1.3" fill="rgb(102,102,102)" />
<rect x="358.35" y="464.4" width="8.38" height="1.3" fill="rgb(25,25,25)" />
<rect x="366.32" y="464.4" width="8.38" height="1.3" fill="rgb(25,25,25)" />
<rect x="374.3" y="464.4" width="8.38" height="1.3" fill="rgb(25,25,25)" />
<rect x="382.27" y="464.4" width="8.38" height="1.3" fill="rgb(25,25,25)" />
<rect x="390.25" y="464.4" width="8.38" height="1.3" fill="rgb(51,51,51)" />
<rect x="398.22" y="464.4" width="8.38" height="1.3" fill="rgb(51,51,51)" />
<rect x="409.5" y="464.4" width="8.38" height="1.3" fill="rgb(51,51,51)" />
<rect x="417.48" y="464.4" width="8.38" height="1.3" fill="rgb(51,51,51)" />
<rect x="425.45" y="464.4" width="8.38" height="1.3" fill="rgb(178,178,178)" />
<rect x="433.43" y="464.4" width="8.38" height="1.3" fill="rgb(102,102,102)" />
<rect x="441.4" y="464.4" width="8.38" height="1.3" fill="rgb(102,102,102)" />
<rect x="449.38" y="464.4" width="8.38" height="1.3" fill="rgb(128,128,128)" />
<rect x="457.35" y="464.4" width="8.38" height="1.3" fill="rgb(153,153,153)" />
<rect x="465.32" y="464.4" width="8.38" height="1.3" fill="rgb(178,178,178)" />
<rect x="512.9" y="464.4" width="8.42" height="1.3" fill="rgb(51,51,51)" />
<rect x="520.92" y="464.4" width="8.42" height="1.3" fill="rgb(178,178,178)" />
<rect x="544.97" y="464.4" width="8.42" height="1.3" fill="rgb(153,153,153)" />
<rect x="552.98" y="464.4" width="8.42" height="1.3" fill="rgb(178,178,178)" />
<rect x="342.4" y="468.6" width="8.38" height="1.6" fill="rgb(204,204,204)" />
<rect x="350.38" y="468.6" width="8.38" height="1.6" fill="rgb(217,217,217)" />
<rect x="358.35" y="468.6" width="8.38" height="1.6" fill="rgb(140,140,140)" />
<rect x="366.32" y="468.6" width="8.38" height="1.6" fill="rgb(230,230,230)" />
<rect x="374.3" y="468.6" width="8.38" height="1.6" fill="rgb(166,166,166)" />
<rect x="382.27" y="468.6" width="8.38" height="1.6" fill="rgb(166,166,166)" />
<rect x="390.25" y="468.6" width="8.38" height="1.6" fill="rgb(230,230,230)" />
<rect x="409.5" y="468.6" width="8.38" height="1.6" fill="rgb(230,230,230)" />
<rect x="433.43" y="468.6" width="8.38" height="1.6" fill="rgb(204,204,204)" />
<rect x="492.85" y="468.6" width="8.13" height="1.6" fill="rgb(204,204,204)" />
<rect x="500.57" y="468.6" width="8.13" height="1.6" fill="rgb(204,204,204)" />
<rect x="512.9" y="468.6" width="8.42" height="1.6" fill="rgb(153,153,153)" />
<rect x="544.97" y="468.6" width="8.42" height="1.6" fill="rgb(204,204,204)" />
<rect x="552.98" y="468.6" width="8.42" height="1.6" fill="rgb(204,204,204)" />
<rect x="342.4" y="472" width="8.38" height="1" fill="rgb(230,230,230)" />
<rect x="358.35" y="472" width="8.38" height="1" fill="rgb(178,178,178)" />
<rect x="374.3" y="472" width="8.38" height="1" fill="rgb(153,153,153)" />
<rect x="382.27" y="472" width="8.38" height="1" fill="rgb(230,230,230)" />
<rect x="342.4" y="476" width="8.38" height="1.8" fill="rgb(166,166,166)" />
<rect x="350.38" y="476" width="8.38" height="1.8" fill="rgb(217,217,217)" />
<rect x="358.35" y="476" width="8.38" height="1.8" fill="rgb(217,217,217)" />
<rect x="366.32" y="476" width="8.38" height="1.8" fill="rgb(230,230,230)" />
<rect x="374.3" y="476" width="8.38" height="1.8" fill="rgb(140,140,140)" />
<rect x="382.27" y="476" width="8.38" height="1.8" fill="rgb(191,191,191)" />
<rect x="390.25" y="476" width="8.38" height="1.8" fill="rgb(230,230,230)" />
<rect x="398.22" y="476" width="8.38" height="1.8" fill="rgb(230,230,230)" />
<rect x="409.5" y="476" width="8.38" height="1.8" fill="rgb(230,230,230)" />
<rect x="449.38" y="476" width="8.38" height="1.8" fill="rgb(230,230,230)" />
<rect x="457.35" y="476" width="8.38" height="1.8" fill="rgb(230,230,230)" />
<rect x="465.32" y="476" width="8.38" height="1.8" fill="rgb(230,230,230)" />
<rect x="342.4" y="479.5" width="8.38" height="1.5" fill="rgb(77,77,77)" />
<rect x="350.38" y="479.5" width="8.38" height="1.5" fill="rgb(204,204,204)" />
<rect x="358.35" y="479.5" width="8.38" height="1.5" fill="rgb(230,230,230)" />
<rect x="366.32" y="479.5" width="8.38" height="1.5" fill="rgb(230,230,230)" />
<rect x="374.3" y="479.5" width="8.38" height="1.5" fill="rgb(204,204,204)" />
<rect x="382.27" y="479.5" width="8.38" height="1.5" fill="rgb(230,230,230)" />
<rect x="390.25" y="479.5" width="8.38" height="1.5" fill="rgb(153,153,153)" />
<rect x="398.22" y="479.5" width="8.38" height="1.5" fill="rgb(204,204,204)" />
<rect x="409.5" y="479.5" width="8.38" height="1.5" fill="rgb(128,128,128)" />
<rect x="417.48" y="479.5" width="8.38" height="1.5" fill="rgb(128,128,128)" />
<rect x="425.45" y="479.5" width="8.38" height="1.5" fill="rgb(204,204,204)" />
<rect x="433.43" y="479.5" width="8.38" height="1.5" fill="rgb(204,204,204)" />
<rect x="441.4" y="479.5" width="8.38" height="1.5" fill="rgb(204,204,204)" />
<rect x="449.38" y="479.5" width="8.38" height="1.5" fill="rgb(128,128,128)" />
<rect x="457.35" y="479.5" width="8.38" height="1.5" fill="rgb(51,51,51)" />
<rect x="465.32" y="479.5" width="8.38" height="1.5" fill="rgb(153,153,153)" />
<rect x="477.4" y="479.5" width="8.13" height="1.5" fill="rgb(0,0,0)" />
<rect x="485.12" y="479.5" width="8.13" height="1.5" fill="rgb(0,0,0)" />
<rect x="492.85" y="479.5" width="8.13" height="1.5" fill="rgb(204,204,204)" />
<rect x="500.57" y="479.5" width="8.13" height="1.5" fill="rgb(204,204,204)" />
<rect x="512.9" y="479.5" width="8.42" height="1.5" fill="rgb(0,0,0)" />
<rect x="520.92" y="479.5" width="8.42" height="1.5" fill="rgb(204,204,204)" />
<rect x="528.93" y="479.5" width="8.42" height="1.5" fill="rgb(0,0,0)" />
<rect x="536.95" y="479.5" width="8.42" height="1.5" fill="rgb(230,230,230)" />
<rect x="544.97" y="479.5" width="8.42" height="1.5" fill="rgb(204,204,204)" />
<rect x="552.98" y="479.5" width="8.42" height="1.5" fill="rgb(51,51,51)" />
<rect x="492.85" y="482.3" width="8.13" height="1" fill="rgb(153,153,153)" />
<rect x="500.57" y="482.3" width="8.13" height="1" fill="rgb(178,178,178)" />
<rect x="512.9" y="482.3" width="8.42" height="1" fill="rgb(204,204,204)" />
<rect x="520.92" y="482.3" width="8.42" height="1" fill="rgb(204,204,204)" />
<rect x="528.93" y="482.3" width="8.42" height="1" fill="rgb(204,204,204)" />
<rect x="536.95" y="482.3" width="8.42" height="1" fill="rgb(204,204,204)" />
<rect x="544.97" y="482.3" width="8.42" height="1" fill="rgb(204,204,204)" />
<rect x="552.98" y="482.3" width="8.42" height="1" fill="rgb(204,204,204)" />
<rect x="342.4" y="484.6" width="8.38" height="1.6" fill="rgb(0,0,0)" />
<rect x="350.38" y="484.6" width="8.38" height="1.6" fill="rgb(0,0,0)" />
<rect x="358.35" y="484.6" width="8.38" height="1.6" fill="rgb(0,0,0)" />
<rect x="366.32" y="484.6" width="8.38" height="1.6" fill="rgb(0,0,0)" />
<rect x="374.3" y="484.6" width="8.38" height="1.6" fill="rgb(0,0,0)" />
<rect x="382.27" y="484.6" width="8.38" height="1.6" fill="rgb(0,0,0)" />
<rect x="390.25" y="484.6" width="8.38" height="1.6" fill="rgb(0,0,0)" />
<rect x="398.22" y="484.6" width="8.38" height="1.6" fill="rgb(0,0,0)" />
<rect x="409.5" y="484.6" width="8.38" height="1.6" fill="rgb(0,0,0)" />
<rect x="417.48" y="484.6" width="8.38" height="1.6" fill="rgb(0,0,0)" />
<rect x="425.45" y="484.6" width="8.38" height="1.6" fill="rgb(178,178,178)" />
<rect x="433.43" y="484.6" width="8.38" height="1.6" fill="rgb(0,0,0)" />
<rect x="441.4" y="484.6" width="8.38" height="1.6" fill="rgb(0,0,0)" />
<rect x="449.38" y="484.6" width="8.38" height="1.6" fill="rgb(25,25,25)" />
<rect x="457.35" y="484.6" width="8.38" height="1.6" fill="rgb(0,0,0)" />
<rect x="465.32" y="484.6" width="8.38" height="1.6" fill="rgb(0,0,0)" />
<rect x="492.85" y="484.6" width="8.13" height="1.6" fill="rgb(0,0,0)" />
<rect x="500.57" y="484.6" width="8.13" height="1.6" fill="rgb(0,0,0)" />
<rect x="512.9" y="484.6" width="8.42" height="1.6" fill="rgb(204,204,204)" />
<rect x="520.92" y="484.6" width="8.42" height="1.6" fill="rgb(0,0,0)" />
<rect x="528.93" y="484.6" width="8.42" height="1.6" fill="rgb(0,0,0)" />
<rect x="536.95" y="484.6" width="8.42" height="1.6" fill="rgb(178,178,178)" />
<rect x="544.97" y="484.6" width="8.42" height="1.6" fill="rgb(0,0,0)" />
<rect x="552.98" y="484.6" width="8.42" height="1.6" fill="rgb(178,178,178)" />
<rect x="342.4" y="486.8" width="8.38" height="2.6" fill="rgb(230,230,230)" />
<rect x="350.38" y="486.8" width="8.38" height="2.6" fill="rgb(178,178,178)" />
<rect x="358.35" y="486.8" width="8.38" height="2.6" fill="rgb(128,128,128)" />
<rect x="366.32" y="486.8" width="8.38" height="2.6" fill="rgb(230,230,230)" />
<rect x="374.3" y="486.8" width="8.38" height="2.6" fill="rgb(230,230,230)" />
<rect x="382.27" y="486.8" width="8.38" height="2.6" fill="rgb(153,153,153)" />
<rect x="390.25" y="486.8" width="8.38" height="2.6" fill="rgb(230,230,230)" />
<rect x="398.22" y="486.8" width="8.38" height="2.6" fill="rgb(230,230,230)" />
<rect x="409.5" y="486.8" width="8.38" height="2.6" fill="rgb(178,178,178)" />
<rect x="457.35" y="486.8" width="8.38" height="2.6" fill="rgb(153,153,153)" />
<rect x="465.32" y="486.8" width="8.38" height="2.6" fill="rgb(153,153,153)" />
<rect x="477.4" y="486.8" width="8.13" height="2.6" fill="rgb(204,204,204)" />
<rect x="485.12" y="486.8" width="8.13" height="2.6" fill="rgb(230,230,230)" />
<rect x="492.85" y="486.8" width="8.13" height="2.6" fill="rgb(178,178,178)" />
<rect x="500.57" y="486.8" width="8.13" height="2.6" fill="rgb(204,204,204)" />
<rect x="512.9" y="486.8" width="8.42" height="2.6" fill="rgb(204,204,204)" />
<rect x="520.92" y="486.8" width="8.42" height="2.6" fill="rgb(178,178,178)" />
<rect x="528.93" y="486.8" width="8.42" height="2.6" fill="rgb(230,230,230)" />
<rect x="536.95" y="486.8" width="8.42" height="2.6" fill="rgb(178,178,178)" />
<rect x="544.97" y="486.8" width="8.42" height="2.6" fill="rgb(204,204,204)" />
<rect x="552.98" y="486.8" width="8.42" height="2.6" fill="rgb(153,153,153)" />
<rect x="477.4" y="489.2" width="8.13" height="1.2" fill="rgb(0,0,0)" />
<rect x="485.12" y="489.2" width="8.13" height="1.2" fill="rgb(0,0,0)" />
<rect x="492.85" y="489.2" width="8.13" height="1.2" fill="rgb(178,178,178)" />
<rect x="520.92" y="489.2" width="8.42" height="1.2" fill="rgb(178,178,178)" />
<rect x="544.97" y="489.2" width="8.42" height="1.2" fill="rgb(178,178,178)" />
<rect x="552.98" y="489.2" width="8.42" height="1.2" fill="rgb(178,178,178)" />
<rect x="342.4" y="492.3" width="8.38" height="2.4" fill="rgb(0,0,0)" />
<rect x="350.38" y="492.3" width="8.38" height="2.4" fill="rgb(0,0,0)" />
<rect x="358.35" y="492.3" width="8.38" height="2.4" fill="rgb(0,0,0)" />
<rect x="366.32" y="492.3" width="8.38" height="2.4" fill="rgb(0,0,0)" />
<rect x="374.3" y="492.3" width="8.38" height="2.4" fill="rgb(0,0,0)" />
<rect x="382.27" y="492.3" width="8.38" height="2.4" fill="rgb(0,0,0)" />
<rect x="390.25" y="492.3" width="8.38" height="2.4" fill="rgb(0,0,0)" />
<rect x="398.22" y="492.3" width="8.38" height="2.4" fill="rgb(0,0,0)" />
<rect x="409.5" y="492.3" width="8.38" height="2.4" fill="rgb(0,0,0)" />
<rect x="417.48" y="492.3" width="8.38" height="2.4" fill="rgb(0,0,0)" />
<rect x="425.45" y="492.3" width="8.38" height="2.4" fill="rgb(0,0,0)" />
<rect x="433.43" y="492.3" width="8.38" height="2.4" fill="rgb(0,0,0)" />
<rect x="441.4" y="492.3" width="8.38" height="2.4" fill="rgb(0,0,0)" />
<rect x="449.38" y="492.3" width="8.38" height="2.4" fill="rgb(0,0,0)" />
<rect x="457.35" y="492.3" width="8.38" height="2.4" fill="rgb(0,0,0)" />
<rect x="465.32" y="492.3" width="8.38" height="2.4" fill="rgb(0,0,0)" />
<rect x="477.4" y="492.3" width="8.13" height="2.4" fill="rgb(0,0,0)" />
<rect x="485.12" y="492.3" width="8.13" height="2.4" fill="rgb(0,0,0)" />
<rect x="492.85" y="492.3" width="8.13" height="2.4" fill="rgb(153,153,153)" />
<rect x="500.57" y="492.3" width="8.13" height="2.4" fill="rgb(153,153,153)" />
<rect x="512.9" y="492.3" width="8.42" height="2.4" fill="rgb(0,0,0)" />
<rect x="520.92" y="492.3" width="8.42" height="2.4" fill="rgb(0,0,0)" />
<rect x="528.93" y="492.3" width="8.42" height="2.4" fill="rgb(0,0,0)" />
<rect x="536.95" y="492.3" width="8.42" height="2.4" fill="rgb(0,0,0)" />
<rect x="544.97" y="492.3" width="8.42" height="2.4" fill="rgb(0,0,0)" />
<rect x="552.98" y="492.3" width="8.42" height="2.4" fill="rgb(0,0,0)" />
<rect x="358.35" y="504" width="8.38" height="1" fill="rgb(204,204,204)" />
<rect x="342.4" y="510" width="8.38" height="1" fill="rgb(230,230,230)" />
<rect x="465.32" y="510" width="8.38" height="1" fill="rgb(166,166,166)" />
<rect x="342.4" y="521" width="8.38" height="1" fill="rgb(242,242,242)" />
<rect x="350.38" y="521" width="8.38" height="1" fill="rgb(242,242,242)" />
<rect x="358.35" y="521" width="8.38" height="1" fill="rgb(242,242,242)" />
<rect x="366.32" y="521" width="8.38" height="1" fill="rgb(242,242,242)" />
<rect x="374.3" y="521" width="8.38" height="1" fill="rgb(242,242,242)" />
<rect x="382.27" y="521" width="8.38" height="1" fill="rgb(242,242,242)" />
<rect x="390.25" y="521" width="8.38" height="1" fill="rgb(242,242,242)" />
<rect x="398.22" y="521" width="8.38" height="1" fill="rgb(242,242,242)" />
<rect x="417.48" y="521" width="8.38" height="1" fill="rgb(217,217,217)" />
<rect x="350.38" y="636.5" width="8.38" height="1" fill="rgb(140,140,140)" />
<rect x="417.48" y="727" width="8.38" height="1" fill="rgb(230,230,230)" />
<rect x="358.35" y="814" width="8.38" height="1" fill="rgb(242,242,242)" />
<rect x="366.32" y="814" width="8.38" height="1" fill="rgb(242,242,242)" />
<rect x="374.3" y="814" width="8.38" height="1" fill="rgb(242,242,242)" />
<rect x="382.27" y="814" width="8.38" height="1" fill="rgb(242,242,242)" />
<rect x="433.43" y="814" width="8.38" height="1" fill="rgb(191,191,191)" />
</g>
<rect x="342.4" y="457.4" width="63.8" height="460.4" fill="none" stroke="#111" stroke-width="1"/>
<rect x="409.5" y="457.4" width="63.8" height="460.4" fill="none" stroke="#111" stroke-width="1"/>
<rect x="477.4" y="457.4" width="30.9" height="460.4" fill="none" stroke="#111" stroke-width="1"/>
<rect x="512.9" y="457.4" width="48.1" height="460.4" fill="none" stroke="#111" stroke-width="1"/>
<rect x="2.8" y="456.5" width="28.7" height="61.2" fill="#72ee72" />
<text x="0" y="5.08" font-size="14.2" text-anchor="middle" transform="translate(16.8 487.1) rotate(-90)">Cortex</text>
<rect x="2.8" y="517.7" width="28.7" height="15.9" fill="#9ccfbf" />
<text x="0" y="5.08" font-size="14.2" text-anchor="middle" transform="translate(17 525.65) rotate(0)">OLF</text>
<rect x="2.8" y="533.6" width="28.7" height="21.4" fill="#7cc84c" />
<text x="0" y="5.08" font-size="14.2" text-anchor="middle" transform="translate(17 544.3) rotate(0)">HPF</text>
<rect x="2.8" y="555" width="28.7" height="11" fill="#98d890" />
<text x="17" y="563.7" font-size="14.2" text-anchor="middle">sp</text>
<rect x="2.8" y="566" width="28.7" height="20.6" fill="#9cd0f0" />
<text x="0" y="5.08" font-size="14.2" text-anchor="middle" transform="translate(17 576.3) rotate(0)">STR</text>
<rect x="2.8" y="586.6" width="28.7" height="12.8" fill="#8c9ed8" />
<text x="0" y="5.08" font-size="14.2" text-anchor="middle" transform="translate(17 593) rotate(0)">PAL</text>
<rect x="2.8" y="599.4" width="28.7" height="64.9" fill="#f4707c" />
<text x="0" y="5.08" font-size="14.2" text-anchor="middle" transform="translate(16.8 631.85) rotate(-90)">Thalamus</text>
<rect x="2.8" y="664.3" width="28.7" height="63.7" fill="#e8483c" />
<text x="0" y="5.08" font-size="14.2" text-anchor="middle" transform="translate(16.8 696.15) rotate(-90)">HY</text>
<rect x="2.8" y="728" width="28.7" height="57.7" fill="#f050f0" />
<text x="0" y="5.08" font-size="14.2" text-anchor="middle" transform="translate(16.8 756.85) rotate(-90)">Midbrain</text>
<rect x="2.8" y="785.7" width="28.7" height="37.9" fill="#f6907a" />
<text x="0" y="5.08" font-size="14.2" text-anchor="middle" transform="translate(16.8 804.65) rotate(-90)">Pons</text>
<rect x="2.8" y="823.6" width="28.7" height="65.9" fill="#f890c8" />
<text x="0" y="5.08" font-size="14.2" text-anchor="middle" transform="translate(16.8 856.55) rotate(-90)">Medulla</text>
<rect x="2.8" y="889.5" width="28.7" height="26.5" fill="#f0f07c" />
<text x="0" y="5.08" font-size="14.2" text-anchor="middle" transform="translate(17 902.75) rotate(0)">CB</text>
<text x="273.6" y="482.3" font-size="15.3" textLength="48.73" lengthAdjust="spacingAndGlyphs">SSp-ul</text>
<text x="280.9" y="498.6" font-size="15.3" textLength="34.53" lengthAdjust="spacingAndGlyphs">MOp</text>
<text x="281.7" y="514.2" font-size="15.3" textLength="33.31" lengthAdjust="spacingAndGlyphs">MOs</text>
<text x="282" y="547.7" font-size="15.3" textLength="33.37" lengthAdjust="spacingAndGlyphs">ENTI</text>
<line x1="264.1" y1="544" x2="272.6" y2="544" stroke="#000" stroke-width="1.2" />
<line x1="323" y1="544" x2="331.8" y2="544" stroke="#000" stroke-width="1.2" />
<text x="283.1" y="562" font-size="15.3" textLength="30.63" lengthAdjust="spacingAndGlyphs">CLA</text>
<line x1="264.1" y1="558.3" x2="272.6" y2="558.3" stroke="#000" stroke-width="1.2" />
<line x1="323" y1="558.3" x2="331.8" y2="558.3" stroke="#000" stroke-width="1.2" />
<text x="283.1" y="590.8" font-size="15.3" textLength="30.72" lengthAdjust="spacingAndGlyphs">GPe</text>
<line x1="264.1" y1="587.6" x2="272.6" y2="587.6" stroke="#000" stroke-width="1.2" />
<line x1="323" y1="587.6" x2="331.8" y2="587.6" stroke="#000" stroke-width="1.2" />
<text x="284.6" y="607" font-size="15.3" textLength="28.12" lengthAdjust="spacingAndGlyphs">VAL</text>
<line x1="264.1" y1="600.6" x2="272.6" y2="600.6" stroke="#000" stroke-width="1.2" />
<line x1="323" y1="600.6" x2="331.8" y2="600.6" stroke="#000" stroke-width="1.2" />
<text x="287.8" y="627.1" font-size="15.3" textLength="21.7" lengthAdjust="spacingAndGlyphs">PO</text>
<line x1="264.1" y1="621.6" x2="272.6" y2="621.6" stroke="#000" stroke-width="1.2" />
<line x1="323" y1="621.6" x2="331.8" y2="621.6" stroke="#000" stroke-width="1.2" />
<text x="290.9" y="730.8" font-size="15.3" textLength="13.98" lengthAdjust="spacingAndGlyphs">ZI</text>
<line x1="264.1" y1="726.8" x2="272.6" y2="726.8" stroke="#000" stroke-width="1.2" />
<line x1="323" y1="726.8" x2="331.8" y2="726.8" stroke="#000" stroke-width="1.2" />
<text x="287.6" y="819.5" font-size="15.3" textLength="21.59" lengthAdjust="spacingAndGlyphs">CS</text>
<line x1="264.1" y1="813.4" x2="272.6" y2="813.4" stroke="#000" stroke-width="1.2" />
<line x1="323" y1="813.4" x2="331.8" y2="813.4" stroke="#000" stroke-width="1.2" />
<line x1="270.1" y1="482.7" x2="273.6" y2="482.7" stroke="#000" stroke-width="1" />
<line x1="323.2" y1="482.7" x2="325.8" y2="482.7" stroke="#000" stroke-width="1" />
<line x1="264.1" y1="485.4" x2="272.4" y2="485.4" stroke="#000" stroke-width="1.1" />
<line x1="323.2" y1="485.4" x2="331.8" y2="485.4" stroke="#000" stroke-width="1.1" />
<line x1="264.1" y1="492.2" x2="272.4" y2="492.2" stroke="#000" stroke-width="1.5" />
<line x1="323.2" y1="492.2" x2="331.8" y2="492.2" stroke="#000" stroke-width="1.5" />
<line x1="264.1" y1="494.3" x2="272.4" y2="494.3" stroke="#000" stroke-width="1.6" />
<line x1="323.2" y1="494.3" x2="331.8" y2="494.3" stroke="#000" stroke-width="1.6" />
<line x1="256" y1="457.4" x2="256" y2="917.8" stroke="#999" stroke-width="0.8" />
<line x1="342.4" y1="457.4" x2="342.4" y2="917.8" stroke="#999" stroke-width="0.8" />
<text x="96.1" y="940.3" font-size="20" textLength="86.3" lengthAdjust="spacingAndGlyphs">Ipsilateral</text>
<text x="400.5" y="936.5" font-size="20" textLength="117.71" lengthAdjust="spacingAndGlyphs">Contralateral</text>
<defs><linearGradient id="cbar" x1="0" y1="0" x2="0" y2="1"><stop offset="0" stop-color="#282727"/><stop offset="0.25" stop-color="#4e4e4e"/><stop offset="0.53" stop-color="#7f7f7f"/><stop offset="1" stop-color="#e8e8e8"/></linearGradient></defs>
<rect x="571.7" y="509.9" width="22.8" height="359.8" fill="url(#cbar)" stroke="#666" stroke-width="0.8"/>
<text x="568.3" y="502.6" font-size="19.8" textLength="36.22" lengthAdjust="spacingAndGlyphs">0.01</text>
<text x="579.1" y="888.2" font-size="19.8" textLength="10.22" lengthAdjust="spacingAndGlyphs">0</text>
<text x="0" y="0" font-size="20.5" textLength="207.97" lengthAdjust="spacingAndGlyphs" transform="translate(617.3 796.5) rotate(-90)">Fraction of total inputs</text>
<text x="655.5" y="24.3" font-size="34" font-weight="bold" stroke="#000" stroke-width="0.9">d</text>
<path d="M806.4,42 C805.5,40.5 803.4,35.67 801,33 C798.6,30.33 795.67,27.67 792,26 C788.33,24.33 784.17,23.63 779,23 C773.83,22.37 766.23,22.25 761,22.2 C755.77,22.15 756.85,21.4 747.6,22.7 C738.35,24 718.5,25.45 705.5,30 C692.5,34.55 680.15,41.73 669.6,50 C659.05,58.27 650.97,66.27 642.2,79.6 C633.43,92.93 624.27,114.45 617,130 C609.73,145.55 603.58,158.62 598.6,172.9 C593.62,187.18 589.97,201.42 587.1,215.7 C584.23,229.98 582.68,244.32 581.4,258.6 C580.12,272.88 579.63,289.5 579.4,301.4 C579.17,313.3 579.18,320.47 580,330 C580.82,339.53 581.68,350.5 584.3,358.6 C586.92,366.7 590.93,373.37 595.7,378.6 C600.47,383.83 607.18,387.35 612.9,390 C618.62,392.65 623.48,394.5 630,394.5 C636.52,394.5 645.33,392.58 652,390 C658.67,387.42 664.88,382.1 670,379 C675.12,375.9 678.88,375.63 682.7,371.4 C686.52,367.17 690.13,360.83 692.9,353.6 C695.67,346.37 697.82,335.43 699.3,328 C700.78,320.57 701.27,313.67 701.8,309 C702.33,304.33 702.38,301.5 702.5,300 L702.5,260 L806.4,150 Z" fill="#fde6de"/>
<path d="M806.4,42 C805.5,40.5 803.4,35.67 801,33 C798.6,30.33 795.67,27.67 792,26 C788.33,24.33 784.17,23.63 779,23 C773.83,22.37 766.23,22.25 761,22.2 C755.77,22.15 756.85,21.4 747.6,22.7 C738.35,24 718.5,25.45 705.5,30 C692.5,34.55 680.15,41.73 669.6,50 C659.05,58.27 650.97,66.27 642.2,79.6 C633.43,92.93 624.27,114.45 617,130 C609.73,145.55 603.58,158.62 598.6,172.9 C593.62,187.18 589.97,201.42 587.1,215.7 C584.23,229.98 582.68,244.32 581.4,258.6 C580.12,272.88 579.63,289.5 579.4,301.4 C579.17,313.3 579.18,320.47 580,330 C580.82,339.53 581.68,350.5 584.3,358.6 C586.92,366.7 590.93,373.37 595.7,378.6 C600.47,383.83 607.18,387.35 612.9,390 C618.62,392.65 623.48,394.5 630,394.5 C636.52,394.5 645.33,392.58 652,390 C658.67,387.42 664.88,382.1 670,379 C675.12,375.9 678.88,375.63 682.7,371.4 C686.52,367.17 690.13,360.83 692.9,353.6 C695.67,346.37 697.82,335.43 699.3,328 C700.78,320.57 701.27,313.67 701.8,309 C702.33,304.33 702.38,301.5 702.5,300" fill="none" stroke="#d2bcb4" stroke-width="0.7"/>
<path d="M806.6,42 C807.5,40.5 809.6,35.67 812,33 C814.4,30.33 817.33,27.67 821,26 C824.67,24.33 828.83,23.63 834,23 C839.17,22.37 846.77,22.25 852,22.2 C857.23,22.15 856.15,21.4 865.4,22.7 C874.65,24 894.5,25.45 907.5,30 C920.5,34.55 932.85,41.73 943.4,50 C953.95,58.27 962.03,66.27 970.8,79.6 C979.57,92.93 988.73,114.45 996,130 C1003.27,145.55 1009.42,158.62 1014.4,172.9 C1019.38,187.18 1023.03,201.42 1025.9,215.7 C1028.77,229.98 1030.32,244.32 1031.6,258.6 C1032.88,272.88 1033.37,289.5 1033.6,301.4 C1033.83,313.3 1033.82,320.47 1033,330 C1032.18,339.53 1031.32,350.5 1028.7,358.6 C1026.08,366.7 1022.07,373.37 1017.3,378.6 C1012.53,383.83 1005.82,387.35 1000.1,390 C994.38,392.65 989.52,394.5 983,394.5 C976.48,394.5 967.67,392.58 961,390 C954.33,387.42 948.12,382.1 943,379 C937.88,375.9 934.12,375.63 930.3,371.4 C926.48,367.17 922.87,360.83 920.1,353.6 C917.33,346.37 915.18,335.43 913.7,328 C912.22,320.57 911.73,313.67 911.2,309 C910.67,304.33 910.62,301.5 910.5,300 L910.5,260 L806.4,150 Z" fill="#fde6de"/>
<path d="M806.6,42 C807.5,40.5 809.6,35.67 812,33 C814.4,30.33 817.33,27.67 821,26 C824.67,24.33 828.83,23.63 834,23 C839.17,22.37 846.77,22.25 852,22.2 C857.23,22.15 856.15,21.4 865.4,22.7 C874.65,24 894.5,25.45 907.5,30 C920.5,34.55 932.85,41.73 943.4,50 C953.95,58.27 962.03,66.27 970.8,79.6 C979.57,92.93 988.73,114.45 996,130 C1003.27,145.55 1009.42,158.62 1014.4,172.9 C1019.38,187.18 1023.03,201.42 1025.9,215.7 C1028.77,229.98 1030.32,244.32 1031.6,258.6 C1032.88,272.88 1033.37,289.5 1033.6,301.4 C1033.83,313.3 1033.82,320.47 1033,330 C1032.18,339.53 1031.32,350.5 1028.7,358.6 C1026.08,366.7 1022.07,373.37 1017.3,378.6 C1012.53,383.83 1005.82,387.35 1000.1,390 C994.38,392.65 989.52,394.5 983,394.5 C976.48,394.5 967.67,392.58 961,390 C954.33,387.42 948.12,382.1 943,379 C937.88,375.9 934.12,375.63 930.3,371.4 C926.48,367.17 922.87,360.83 920.1,353.6 C917.33,346.37 915.18,335.43 913.7,328 C912.22,320.57 911.73,313.67 911.2,309 C910.67,304.33 910.62,301.5 910.5,300" fill="none" stroke="#d2bcb4" stroke-width="0.7"/>
<path d="M806.4,114.8 C802,115.08 789.83,115.13 780,116.5 C770.17,117.87 757.43,118.08 747.4,123 C737.37,127.92 727.48,138.33 719.8,146 C712.12,153.67 706.42,161.33 701.3,169 C696.18,176.67 692.15,183.5 689.1,192 C686.05,200.5 684.18,212 683,220 C681.82,228 681.7,232.58 682,240 C682.3,247.42 683.07,256.6 684.8,264.5 C686.53,272.4 689.53,280.1 692.4,287.4 C695.27,294.7 700.4,304.82 702,308.3 L911,308.3 C912.6,304.82 917.73,294.7 920.6,287.4 C923.47,280.1 926.47,272.4 928.2,264.5 C929.93,256.6 930.7,247.42 931,240 C931.3,232.58 931.18,228 930,220 C928.82,212 926.95,200.5 923.9,192 C920.85,183.5 916.82,176.67 911.7,169 C906.58,161.33 900.88,153.67 893.2,146 C885.52,138.33 875.63,127.92 865.6,123 C855.57,118.08 842.83,117.87 833,116.5 C823.17,115.13 811,115.08 806.6,114.8 Z" fill="#f9d2c3" stroke="#e2b4a4" stroke-width="0.5"/>
<path d="M806.4,136.5 C803.67,136.72 797.28,136.47 790,137.8 C782.72,139.13 771.85,140.58 762.7,144.5 C753.55,148.42 742.77,155.17 735.1,161.3 C727.43,167.43 721.55,173.62 716.7,181.3 C711.85,188.98 708.28,199.28 706,207.4 C703.72,215.52 703.52,220.48 703,230 C702.48,239.52 702.92,254 702.9,264.5 C702.88,275 702.8,285.58 702.9,293 C703,300.42 703.4,306.33 703.5,309 L909.5,309 C909.6,306.33 910,300.42 910.1,293 C910.2,285.58 910.12,275 910.1,264.5 C910.08,254 910.52,239.52 910,230 C909.48,220.48 909.28,215.52 907,207.4 C904.72,199.28 901.15,188.98 896.3,181.3 C891.45,173.62 885.57,167.43 877.9,161.3 C870.23,155.17 859.45,148.42 850.3,144.5 C841.15,140.58 830.28,139.13 823,137.8 C815.72,136.47 809.33,136.72 806.6,136.5 Z" fill="#f6c2ad" stroke="#d9a08c" stroke-width="0.55"/>
<path d="M790,56 C788.83,56.5 784.83,56.67 783,59 C781.17,61.33 780,65.17 779,70 C778,74.83 778,83.17 777,88 C776,92.83 775.83,95.92 773,99 C770.17,102.08 764.27,104.03 760,106.5 C755.73,108.97 754.62,109 747.4,113.8 C740.18,118.6 725.65,126.87 716.7,135.3 C707.75,143.73 699.83,154.95 693.7,164.4 C687.57,173.85 683.48,182.73 679.9,192 C676.32,201.27 674.52,211.17 672.2,220 C669.88,228.83 667.67,238.33 666,245 C664.33,251.67 662.37,256.07 662.2,260 C662.03,263.93 661.8,263.33 665,268.6 C668.2,273.87 675.15,284.88 681.4,291.6 C687.65,298.32 698.98,306.02 702.5,308.9" fill="none" stroke="#cdb8b0" stroke-width="0.55"/>
<path d="M823,56 C824.17,56.5 828.17,56.67 830,59 C831.83,61.33 833,65.17 834,70 C835,74.83 835,83.17 836,88 C837,92.83 837.17,95.92 840,99 C842.83,102.08 848.73,104.03 853,106.5 C857.27,108.97 858.38,109 865.6,113.8 C872.82,118.6 887.35,126.87 896.3,135.3 C905.25,143.73 913.17,154.95 919.3,164.4 C925.43,173.85 929.52,182.73 933.1,192 C936.68,201.27 938.48,211.17 940.8,220 C943.12,228.83 945.33,238.33 947,245 C948.67,251.67 950.63,256.07 950.8,260 C950.97,263.93 951.2,263.33 948,268.6 C944.8,273.87 937.85,284.88 931.6,291.6 C925.35,298.32 914.02,306.02 910.5,308.9" fill="none" stroke="#cdb8b0" stroke-width="0.55"/>
<path d="M793,57 C791.83,57.5 787.83,57.67 786,60 C784.17,62.33 783,66.17 782,71 C781,75.83 781,84 780,89 C779,94 778.83,97.67 776,101 C773.17,104.33 767.33,106.42 763,109 C758.67,111.58 757.25,111.67 750,116.5 C742.75,121.33 728.42,129.58 719.5,138 C710.58,146.42 702.58,157.67 696.5,167 C690.42,176.33 686.5,185 683,194 C679.5,203 677.75,212.33 675.5,221 C673.25,229.67 671.08,239.17 669.5,246 C667.92,252.83 666.17,258 666,262 C665.83,266 665.5,265 668.5,270 C671.5,275 678.33,285.52 684,292 C689.67,298.48 699.42,306.08 702.5,308.9" fill="none" stroke="#cdb8b0" stroke-width="0.55"/>
<path d="M820,57 C821.17,57.5 825.17,57.67 827,60 C828.83,62.33 830,66.17 831,71 C832,75.83 832,84 833,89 C834,94 834.17,97.67 837,101 C839.83,104.33 845.67,106.42 850,109 C854.33,111.58 855.75,111.67 863,116.5 C870.25,121.33 884.58,129.58 893.5,138 C902.42,146.42 910.42,157.67 916.5,167 C922.58,176.33 926.5,185 930,194 C933.5,203 935.25,212.33 937.5,221 C939.75,229.67 941.92,239.17 943.5,246 C945.08,252.83 946.83,258 947,262 C947.17,266 947.5,265 944.5,270 C941.5,275 934.67,285.52 929,292 C923.33,298.48 913.58,306.08 910.5,308.9" fill="none" stroke="#cdb8b0" stroke-width="0.55"/>
<path d="M626.7,285 C630.38,284.5 643.2,282.33 648.8,282 C654.4,281.67 656.15,280.27 660.3,283 C664.45,285.73 669.23,294.08 673.7,298.4 C678.17,302.72 682.3,306.98 687.1,308.9 C691.9,310.82 699.93,309.73 702.5,309.9" fill="none" stroke="#c9b0a8" stroke-width="0.55"/>
<path d="M651.6,276.3 C652.33,275.25 654.23,272.72 656,270 C657.77,267.28 661.17,261.67 662.2,260" fill="none" stroke="#c9b0a8" stroke-width="0.55"/>
<path d="M986.3,285 C982.62,284.5 969.8,282.33 964.2,282 C958.6,281.67 956.85,280.27 952.7,283 C948.55,285.73 943.77,294.08 939.3,298.4 C934.83,302.72 930.7,306.98 925.9,308.9 C921.1,310.82 913.07,309.73 910.5,309.9" fill="none" stroke="#c9b0a8" stroke-width="0.55"/>
<path d="M806.4,161.4 C804.19,161.68 794.4,162.49 790,163.5 C785.6,164.51 777.4,167.27 773.4,169 C769.4,170.73 763.47,174.25 760,176.5 C756.53,178.75 750.2,183.43 747.4,185.9 C744.6,188.37 741.05,192.55 739,195 C736.95,197.45 733.67,202.03 732,204.3 C730.33,206.57 727.73,209.91 726.5,212 C725.27,214.09 724.2,217.2 722.8,220 C721.4,222.8 717.51,229.61 716,233 C714.49,236.39 712.61,239.93 711.5,245.4 C710.39,250.87 708.3,266.72 707.7,274 C707.1,281.28 707.03,294.99 707,300 C706.97,305.01 706.83,309.03 707.5,311.6 C708.17,314.17 710.39,317.86 712,319.3 C713.61,320.74 718.76,321.59 719.6,322.4 C720.44,323.21 719.99,324.89 718.3,325.4 C716.61,325.91 709.1,325.32 706.9,326.2 C704.7,327.08 702.73,329.2 701.8,332 C700.87,334.8 699.98,343.64 699.9,347.2 C699.82,350.76 700.09,356.49 701.2,358.7 C702.31,360.91 707.27,362.44 708.2,363.8 C709.13,365.16 709.23,366.87 708.2,368.9 C707.17,370.93 702.11,376.45 700.5,379 C698.89,381.55 696.26,386.13 696.1,388 C695.94,389.87 696.34,392.24 699.3,393 C702.26,393.76 715.42,393.23 718.3,393.7 C721.18,394.17 721.21,395.13 720.9,396.5 C720.59,397.87 717.12,401.13 716,404 C714.88,406.87 713.1,413.2 712.5,418 C711.9,422.8 711.66,433.33 711.5,440 C711.34,446.67 710.97,462 711.3,468 C711.63,474 712.84,479.13 714,485 C715.16,490.87 718.45,502.53 720,512 C721.55,521.47 724,540.27 725.6,556 C727.2,571.73 730.61,610.8 732,630 C733.39,649.2 734.84,680.6 736,700 C737.16,719.4 739.5,754.57 740.7,775.5 C741.9,796.43 743.57,841 745,857 C746.43,873 748.07,887.77 751.4,895.5 C754.73,903.23 762.67,911.41 770,915 C777.33,918.59 796.67,922.4 806.4,922.4 C816.13,922.4 835.64,918.59 843,915 C850.36,911.41 858.27,903.23 861.6,895.5 C864.93,887.77 866.57,873 868,857 C869.43,841 871.1,796.43 872.3,775.5 C873.5,754.57 875.84,719.4 877,700 C878.16,680.6 879.61,649.2 881,630 C882.39,610.8 885.8,571.73 887.4,556 C889,540.27 891.45,521.47 893,512 C894.55,502.53 897.84,490.87 899,485 C900.16,479.13 901.37,474 901.7,468 C902.03,462 901.66,446.67 901.5,440 C901.34,433.33 901.1,422.8 900.5,418 C899.9,413.2 898.12,406.87 897,404 C895.88,401.13 892.41,397.87 892.1,396.5 C891.79,395.13 891.82,394.17 894.7,393.7 C897.58,393.23 910.74,393.76 913.7,393 C916.66,392.24 917.06,389.87 916.9,388 C916.74,386.13 914.11,381.55 912.5,379 C910.89,376.45 905.83,370.93 904.8,368.9 C903.77,366.87 903.87,365.16 904.8,363.8 C905.73,362.44 910.69,360.91 911.8,358.7 C912.91,356.49 913.18,350.76 913.1,347.2 C913.02,343.64 912.13,334.8 911.2,332 C910.27,329.2 908.3,327.08 906.1,326.2 C903.9,325.32 896.39,325.91 894.7,325.4 C893.01,324.89 892.56,323.21 893.4,322.4 C894.24,321.59 899.39,320.74 901,319.3 C902.61,317.86 904.83,314.17 905.5,311.6 C906.17,309.03 906.03,305.01 906,300 C905.97,294.99 905.9,281.28 905.3,274 C904.7,266.72 902.61,250.87 901.5,245.4 C900.39,239.93 898.51,236.39 897,233 C895.49,229.61 891.6,222.8 890.2,220 C888.8,217.2 887.73,214.09 886.5,212 C885.27,209.91 882.67,206.57 881,204.3 C879.33,202.03 876.05,197.45 874,195 C871.95,192.55 868.4,188.37 865.6,185.9 C862.8,183.43 856.47,178.75 853,176.5 C849.53,174.25 843.6,170.73 839.6,169 C835.6,167.27 827.4,164.51 823,163.5 C818.6,162.49 808.81,161.68 806.6,161.4 C804.39,161.12 808.61,161.12 806.4,161.4 Z" fill="#fdf9e0" stroke="#fff" stroke-width="2.6"/>
<path d="M806.4,161.4 C804.19,161.68 794.4,162.49 790,163.5 C785.6,164.51 777.4,167.27 773.4,169 C769.4,170.73 763.47,174.25 760,176.5 C756.53,178.75 750.2,183.43 747.4,185.9 C744.6,188.37 741.05,192.55 739,195 C736.95,197.45 733.67,202.03 732,204.3 C730.33,206.57 727.73,209.91 726.5,212 C725.27,214.09 724.2,217.2 722.8,220 C721.4,222.8 717.51,229.61 716,233 C714.49,236.39 712.61,239.93 711.5,245.4 C710.39,250.87 708.3,266.72 707.7,274 C707.1,281.28 707.03,294.99 707,300 C706.97,305.01 706.83,309.03 707.5,311.6 C708.17,314.17 710.39,317.86 712,319.3 C713.61,320.74 718.76,321.59 719.6,322.4 C720.44,323.21 719.99,324.89 718.3,325.4 C716.61,325.91 709.1,325.32 706.9,326.2 C704.7,327.08 702.73,329.2 701.8,332 C700.87,334.8 699.98,343.64 699.9,347.2 C699.82,350.76 700.09,356.49 701.2,358.7 C702.31,360.91 707.27,362.44 708.2,363.8 C709.13,365.16 709.23,366.87 708.2,368.9 C707.17,370.93 702.11,376.45 700.5,379 C698.89,381.55 696.26,386.13 696.1,388 C695.94,389.87 696.34,392.24 699.3,393 C702.26,393.76 715.42,393.23 718.3,393.7 C721.18,394.17 721.21,395.13 720.9,396.5 C720.59,397.87 717.12,401.13 716,404 C714.88,406.87 713.1,413.2 712.5,418 C711.9,422.8 711.66,433.33 711.5,440 C711.34,446.67 710.97,462 711.3,468 C711.63,474 712.84,479.13 714,485 C715.16,490.87 718.45,502.53 720,512 C721.55,521.47 724,540.27 725.6,556 C727.2,571.73 730.61,610.8 732,630 C733.39,649.2 734.84,680.6 736,700 C737.16,719.4 739.5,754.57 740.7,775.5 C741.9,796.43 743.57,841 745,857 C746.43,873 748.07,887.77 751.4,895.5 C754.73,903.23 762.67,911.41 770,915 C777.33,918.59 796.67,922.4 806.4,922.4 C816.13,922.4 835.64,918.59 843,915 C850.36,911.41 858.27,903.23 861.6,895.5 C864.93,887.77 866.57,873 868,857 C869.43,841 871.1,796.43 872.3,775.5 C873.5,754.57 875.84,719.4 877,700 C878.16,680.6 879.61,649.2 881,630 C882.39,610.8 885.8,571.73 887.4,556 C889,540.27 891.45,521.47 893,512 C894.55,502.53 897.84,490.87 899,485 C900.16,479.13 901.37,474 901.7,468 C902.03,462 901.66,446.67 901.5,440 C901.34,433.33 901.1,422.8 900.5,418 C899.9,413.2 898.12,406.87 897,404 C895.88,401.13 892.41,397.87 892.1,396.5 C891.79,395.13 891.82,394.17 894.7,393.7 C897.58,393.23 910.74,393.76 913.7,393 C916.66,392.24 917.06,389.87 916.9,388 C916.74,386.13 914.11,381.55 912.5,379 C910.89,376.45 905.83,370.93 904.8,368.9 C903.77,366.87 903.87,365.16 904.8,363.8 C905.73,362.44 910.69,360.91 911.8,358.7 C912.91,356.49 913.18,350.76 913.1,347.2 C913.02,343.64 912.13,334.8 911.2,332 C910.27,329.2 908.3,327.08 906.1,326.2 C903.9,325.32 896.39,325.91 894.7,325.4 C893.01,324.89 892.56,323.21 893.4,322.4 C894.24,321.59 899.39,320.74 901,319.3 C902.61,317.86 904.83,314.17 905.5,311.6 C906.17,309.03 906.03,305.01 906,300 C905.97,294.99 905.9,281.28 905.3,274 C904.7,266.72 902.61,250.87 901.5,245.4 C900.39,239.93 898.51,236.39 897,233 C895.49,229.61 891.6,222.8 890.2,220 C888.8,217.2 887.73,214.09 886.5,212 C885.27,209.91 882.67,206.57 881,204.3 C879.33,202.03 876.05,197.45 874,195 C871.95,192.55 868.4,188.37 865.6,185.9 C862.8,183.43 856.47,178.75 853,176.5 C849.53,174.25 843.6,170.73 839.6,169 C835.6,167.27 827.4,164.51 823,163.5 C818.6,162.49 808.81,161.68 806.6,161.4 C804.39,161.12 808.61,161.12 806.4,161.4 Z" fill="none" stroke="#d9d4c0" stroke-width="0.5"/>
<path d="M719,398.7 C713.84,394.74 689.1,397.6 678,397.6 C666.9,397.6 654.9,396.39 645,398.7 C635.1,401.01 619.05,407.86 612,413 C604.95,418.14 599.35,426.1 598,433 C596.65,439.9 597.6,449.4 603,459 C608.4,468.6 624.4,487.4 634,497 C643.6,506.6 659.35,518.2 667,523 C674.65,527.8 679.3,529.3 685,529 C690.7,528.7 701.1,524.83 705,521 C708.9,517.17 709.95,510.76 711,503.5 C712.05,496.24 711.79,484.53 712,472.6 C712.21,460.68 711.35,435.08 712.4,424 C713.45,412.92 724.16,402.66 719,398.7 Z" fill="#e1f0fb" stroke="#a9c3d4" stroke-width="0.6"/>
<path d="M894,398.7 C899.16,394.74 923.9,397.6 935,397.6 C946.1,397.6 958.1,396.39 968,398.7 C977.9,401.01 993.95,407.86 1001,413 C1008.05,418.14 1013.65,426.1 1015,433 C1016.35,439.9 1015.4,449.4 1010,459 C1004.6,468.6 988.6,487.4 979,497 C969.4,506.6 953.65,518.2 946,523 C938.35,527.8 933.7,529.3 928,529 C922.3,528.7 911.9,524.83 908,521 C904.1,517.17 903.05,510.76 902,503.5 C900.95,496.24 901.21,484.53 901,472.6 C900.79,460.68 901.65,435.08 900.6,424 C899.55,412.92 888.84,402.66 894,398.7 Z" fill="#e1f0fb" stroke="#a9c3d4" stroke-width="0.6"/>
<path d="M719,398.7 C717.74,396.3 707.3,404.06 704,408 C700.7,411.94 698.2,420.05 697,425 C695.8,429.95 695.55,435.51 696,441 C696.45,446.49 697.71,457.19 700,461.6 C702.29,466.01 709.44,476.04 711.3,470.4 C713.16,464.76 711.25,434.75 712.4,424 C713.55,413.25 720.26,401.1 719,398.7 Z" fill="#b4dcf3" stroke="#a9c3d4" stroke-width="0.5"/>
<path d="M894,398.7 C895.26,396.3 905.7,404.06 909,408 C912.3,411.94 914.8,420.05 916,425 C917.2,429.95 917.45,435.51 917,441 C916.55,446.49 915.29,457.19 913,461.6 C910.71,466.01 903.56,476.04 901.7,470.4 C899.84,464.76 901.75,434.75 900.6,424 C899.45,413.25 892.74,401.1 894,398.7 Z" fill="#b4dcf3" stroke="#a9c3d4" stroke-width="0.5"/>
<line x1="693.6" y1="487.6" x2="711.3" y2="489.2" stroke="#a9c3d4" stroke-width="0.6" />
<line x1="919.4" y1="487.6" x2="901.7" y2="489.2" stroke="#a9c3d4" stroke-width="0.6" />
<line x1="806.4" y1="40" x2="806.4" y2="922" stroke="#c4c4c4" stroke-width="0.7" />
<line x1="709" y1="322.5" x2="904" y2="322.5" stroke="#c4c4c4" stroke-width="0.7" />
<line x1="719" y1="397" x2="894" y2="397" stroke="#c4c4c4" stroke-width="0.7" />
<line x1="711.5" y1="470.4" x2="901.5" y2="470.4" stroke="#c4c4c4" stroke-width="0.7" />
<line x1="723.5" y1="543.6" x2="889.3" y2="543.6" stroke="#c4c4c4" stroke-width="0.7" />
<line x1="732" y1="630" x2="881" y2="630" stroke="#b8b8b8" stroke-width="0.7" stroke-dasharray="2.2,2.2"/>
<line x1="741" y1="776.8" x2="872" y2="776.8" stroke="#b8b8b8" stroke-width="0.7" stroke-dasharray="2.2,2.2"/>
<line x1="745.3" y1="857.8" x2="867.7" y2="857.8" stroke="#b8b8b8" stroke-width="0.7" stroke-dasharray="2.2,2.2"/>
<line x1="752.5" y1="896.3" x2="860.5" y2="896.3" stroke="#b8b8b8" stroke-width="0.7" stroke-dasharray="2.2,2.2"/>
<line x1="775" y1="169" x2="753" y2="322" stroke="#c4c4c4" stroke-width="0.6" />
<line x1="839" y1="168" x2="860" y2="322" stroke="#c4c4c4" stroke-width="0.6" />
<ellipse cx="806.8" cy="263" rx="2.4" ry="15.5" fill="#fff" stroke="#c8c8c8" stroke-width="0.5"/>
<path d="M659.3,325.7 L675.6,294" fill="none" stroke="#555" stroke-width="0.7"/>
<path d="M782,58 C788,53 795,53 800,59" fill="none" stroke="#c8b8b0" stroke-width="0.8"/>
<path d="M831,58 C825,53 818,53 813,59" fill="none" stroke="#c8b8b0" stroke-width="0.8"/>
<text x="0" y="4.47" font-size="12.5" text-anchor="middle" fill="#a8a8a8" transform="translate(629 346.7) rotate(0)">Cerebral</text>
<text x="0" y="4.47" font-size="12.5" text-anchor="middle" fill="#a8a8a8" transform="translate(629 360.4) rotate(0)">cortex</text>
<text x="0" y="4.47" font-size="12.5" text-anchor="middle" fill="#a8a8a8" transform="translate(736 271) rotate(-90)">Thalamus</text>
<text x="0" y="4.47" font-size="12.5" text-anchor="middle" fill="#a8a8a8" transform="translate(788.5 269.5) rotate(-90)">Hypothalamus</text>
<text x="0" y="4.47" font-size="12.5" text-anchor="middle" fill="#a8a8a8" transform="translate(760 346) rotate(0)">Midbrain</text>
<text x="0" y="4.47" font-size="12.5" text-anchor="middle" fill="#a8a8a8" transform="translate(651.2 434.3) rotate(0)">Cerebellum</text>
<text x="0" y="4.47" font-size="12.5" text-anchor="middle" fill="#a8a8a8" transform="translate(767 434.3) rotate(0)">Pons</text>
<text x="0" y="4.47" font-size="12.5" text-anchor="middle" fill="#a8a8a8" transform="translate(766.2 509.9) rotate(0)">Medulla</text>
<text x="0" y="3.94" font-size="11" text-anchor="middle" fill="#a8a8a8" transform="translate(772.8 688.2) rotate(0)">Spinal</text>
<text x="0" y="3.94" font-size="11" text-anchor="middle" fill="#a8a8a8" transform="translate(772.8 702.4) rotate(0)">cord</text>
<path d="M676,109 C690,112 715,112.5 740,112.5 L880,112 C905,111.5 920,110 936,106" fill="none" stroke="#000" stroke-width="5.6" stroke-linecap="round" stroke-linejoin="round"/>
<path d="M674,104 C685,88 700,70 720,60 C740,50 760,46 789,46" fill="none" stroke="#000" stroke-width="3.4" stroke-linecap="round" stroke-linejoin="round"/>
<path d="M695.2,73.7 L694,59" fill="none" stroke="#000" stroke-width="2.4" stroke-linecap="round" stroke-linejoin="round"/>
<path d="M686,87.5 C690,86 695,85.5 703,86" fill="none" stroke="#000" stroke-width="3" stroke-linecap="round" stroke-linejoin="round"/>
<path d="M718,60.6 C725,62 733,70 737,78 L738.6,84.7" fill="none" stroke="#000" stroke-width="3" stroke-linecap="round" stroke-linejoin="round"/>
<path d="M739.6,47.6 L740,35" fill="none" stroke="#000" stroke-width="2" stroke-linecap="round" stroke-linejoin="round"/>
<path d="M758,50.7 C768,53 774,60 775,69 C776,78 772,88 764,94 C760,97 756,99 751,99.3" fill="none" stroke="#000" stroke-width="3" stroke-linecap="round" stroke-linejoin="round"/>
<path d="M775,75 L775.2,84.1" fill="none" stroke="#000" stroke-width="1.6" stroke-linecap="round" stroke-linejoin="round"/>
<path d="M772,86 L771.8,91.3" fill="none" stroke="#000" stroke-width="1.6" stroke-linecap="round" stroke-linejoin="round"/>
<path d="M768,90 L767.2,94.4" fill="none" stroke="#000" stroke-width="1.6" stroke-linecap="round" stroke-linejoin="round"/>
<path d="M672,112 C665,125 660,140 658,160 C657,180 660,200 661,220 C661,235 659,245 656.7,249" fill="none" stroke="#000" stroke-width="3.6" stroke-linecap="round" stroke-linejoin="round"/>
<path d="M656.7,249 Q650,256 643.6,256.7" fill="none" stroke="#000" stroke-width="3.4" stroke-linecap="round" stroke-linejoin="round"/>
<path d="M656.7,249 C662,260 675,270 692,273.3" fill="none" stroke="#000" stroke-width="4.4" stroke-linecap="round" stroke-linejoin="round"/>
<path d="M652.5,258 L657.5,262.1" fill="none" stroke="#000" stroke-width="1.6" stroke-linecap="round" stroke-linejoin="round"/>
<path d="M652,258 C651,270 650.6,285 650.9,293.3" fill="none" stroke="#000" stroke-width="1.1" stroke-linecap="round" stroke-linejoin="round"/>
<path d="M652,266 C657,275 665,282 672.8,285.9" fill="none" stroke="#000" stroke-width="1.1" stroke-linecap="round" stroke-linejoin="round"/>
<path d="M668,114 C660,125 645,133 618,143.7" fill="none" stroke="#000" stroke-width="2" stroke-linecap="round" stroke-linejoin="round"/>
<path d="M670,114 L645,142" fill="none" stroke="#000" stroke-width="3.4" stroke-linecap="round" stroke-linejoin="round"/>
<path d="M665,117 L639,140" fill="none" stroke="#000" stroke-width="2" stroke-linecap="round" stroke-linejoin="round"/>
<path d="M658,142 Q661,147 664.4,146.8" fill="none" stroke="#000" stroke-width="2.4" stroke-linecap="round" stroke-linejoin="round"/>
<path d="M657.6,157 Q661,163 667.7,164" fill="none" stroke="#000" stroke-width="2.4" stroke-linecap="round" stroke-linejoin="round"/>
<path d="M659.8,186.7 Q655,194 649.8,197.1" fill="none" stroke="#000" stroke-width="2.6" stroke-linecap="round" stroke-linejoin="round"/>
<path d="M661.5,196 Q666,199 675.1,198.7" fill="none" stroke="#000" stroke-width="2.6" stroke-linecap="round" stroke-linejoin="round"/>
<path d="M825,45.5 C850,44 870,46 890,56 C905,64 922,80 937,104" fill="none" stroke="#000" stroke-width="5.5" stroke-linecap="round" stroke-linejoin="round"/>
<path d="M836,60 C845,55 858,52 878,50" fill="none" stroke="#000" stroke-width="3.2" stroke-linecap="round" stroke-linejoin="round"/>
<path d="M837,68 C837,78 839,88 845,92 C850,96 856,98 861,98" fill="none" stroke="#000" stroke-width="3" stroke-linecap="round" stroke-linejoin="round"/>
<path d="M891,62 C883,66 876,72 875,80" fill="none" stroke="#000" stroke-width="3.5" stroke-linecap="round" stroke-linejoin="round"/>
<path d="M905,86 L925,86 Q932,90 934,98" fill="none" stroke="#000" stroke-width="6.2" stroke-linecap="round" stroke-linejoin="round"/>
<path d="M918,66 L921,79" fill="none" stroke="#000" stroke-width="3" stroke-linecap="round" stroke-linejoin="round"/>
<path d="M872.7,35 L872,48" fill="none" stroke="#000" stroke-width="2" stroke-linecap="round" stroke-linejoin="round"/>
<path d="M931,115 C926,130 920,150 918,166 C914,190 910,215 904,240 C900,250 895,255 891,258" fill="none" stroke="#000" stroke-width="7.2" stroke-linecap="round" stroke-linejoin="round"/>
<path d="M946,115 C951,125 952,135 952,150 L952,200 L951.5,232 C952,240 955,248 962,256" fill="none" stroke="#000" stroke-width="4.2" stroke-linecap="round" stroke-linejoin="round"/>
<path d="M946,115 C952,125 958,135 963,142" fill="none" stroke="#000" stroke-width="3" stroke-linecap="round" stroke-linejoin="round"/>
<path d="M947,114 C958,125 965,133 975,140" fill="none" stroke="#000" stroke-width="3" stroke-linecap="round" stroke-linejoin="round"/>
<path d="M948,113 C965,125 980,136 992,141" fill="none" stroke="#000" stroke-width="2" stroke-linecap="round" stroke-linejoin="round"/>
<path d="M952,162 C955,170 963,175 973,177" fill="none" stroke="#000" stroke-width="3" stroke-linecap="round" stroke-linejoin="round"/>
<path d="M951.5,189 Q955,195 962,196" fill="none" stroke="#000" stroke-width="3" stroke-linecap="round" stroke-linejoin="round"/>
<path d="M951.5,198 Q945,200 939,200" fill="none" stroke="#000" stroke-width="3" stroke-linecap="round" stroke-linejoin="round"/>
<path d="M962.7,253.7 C955,257 948,260 942.3,263.9 C935,268 928,271 922,273.5" fill="none" stroke="#000" stroke-width="4" stroke-linecap="round" stroke-linejoin="round"/>
<path d="M961,256 L955.6,262.6" fill="none" stroke="#000" stroke-width="1.2" stroke-linecap="round" stroke-linejoin="round"/>
<path d="M962.5,256 L962.7,293" fill="none" stroke="#000" stroke-width="0.9" stroke-linecap="round" stroke-linejoin="round"/>
<path d="M958,262 C956,272 950,280 940.3,286.3" fill="none" stroke="#000" stroke-width="0.9" stroke-linecap="round" stroke-linejoin="round"/>
<path d="M962,256 L968,256.3" fill="none" stroke="#000" stroke-width="2" stroke-linecap="round" stroke-linejoin="round"/>
<path d="M766,215 Q768,217.5 775,217.5 L852.7,216.5 C858,218 862,222 865.4,225.4 C869,230 872,234 875.6,236.9 C880,240 885,243 890.9,245" fill="none" stroke="#000" stroke-width="2" stroke-linecap="round" stroke-linejoin="round"/>
<path d="M911.2,200 C909,206 908,213 906.1,219 C904,226 902,232 899.8,238.2 C898,244 896.5,249 894.7,253.4 C893,257 891.5,260 889.6,263.6" fill="none" stroke="#000" stroke-width="6" stroke-linecap="round" stroke-linejoin="round"/>
<path d="M889.6,262 C888.5,270 887.5,280 885.8,291.6 L884.5,296" fill="none" stroke="#000" stroke-width="7" stroke-linecap="round" stroke-linejoin="round"/>
<path d="M891,262 C885,268 882,275 878.2,281.4 C874,287 870,292 865.4,296.7 C862,299.5 860,301.5 857.8,303" fill="none" stroke="#000" stroke-width="5" stroke-linecap="round" stroke-linejoin="round"/>
<path d="M893,244 C888,241 885,239 882,238.2 C877,237 872,236 868,235.6" fill="none" stroke="#000" stroke-width="4.2" stroke-linecap="round" stroke-linejoin="round"/>
<path d="M892,248 C885,246 878,245 871,244.5 C866,244 862,244 858.4,243.9" fill="none" stroke="#000" stroke-width="2.8" stroke-linecap="round" stroke-linejoin="round"/>
<path d="M894,251 C888,252 882,253.5 876,254 C872,254.3 868,254.5 862.5,254.5" fill="none" stroke="#000" stroke-width="5.2" stroke-linecap="round" stroke-linejoin="round"/>
<path d="M892,257 C888,259 884,261 880.7,262.4 C879,263 877,263.5 875.6,263.6" fill="none" stroke="#000" stroke-width="3.2" stroke-linecap="round" stroke-linejoin="round"/>
<path d="M890,262 C885,265 880,268 876.5,270 C874,271.5 872,272.5 869.9,273.1" fill="none" stroke="#000" stroke-width="3.2" stroke-linecap="round" stroke-linejoin="round"/>
<path d="M889,266 C885,271 879,276 872,279.5 C866,281.5 861,282.5 857.2,282.7" fill="none" stroke="#000" stroke-width="2" stroke-linecap="round" stroke-linejoin="round"/>
<path d="M888,270 C884,278 876,285 866,290 C859,293 852,294.5 845.7,294.8" fill="none" stroke="#000" stroke-width="2" stroke-linecap="round" stroke-linejoin="round"/>
<path d="M892,266 C893,280 894,292 894.7,305.6" fill="none" stroke="#000" stroke-width="3.4" stroke-linecap="round" stroke-linejoin="round"/>
<path d="M892,264 C894,272 896,279 897.9,285.2" fill="none" stroke="#000" stroke-width="3" stroke-linecap="round" stroke-linejoin="round"/>
<path d="M893,258 C895,262 897,265.5 898.5,268.7" fill="none" stroke="#000" stroke-width="3" stroke-linecap="round" stroke-linejoin="round"/>
<path d="M890,245 C884,238 880,232 876,226 C870,220 862,215 852.7,212.7" fill="none" stroke="#000" stroke-width="1.4" stroke-linecap="round" stroke-linejoin="round"/>
<path d="M889,243 C884,236 876,228 869,222 C866,219 864,216 863,214" fill="none" stroke="#000" stroke-width="1.4" stroke-linecap="round" stroke-linejoin="round"/>
<path d="M890,244 C885,236 880,229 875,222" fill="none" stroke="#000" stroke-width="1.4" stroke-linecap="round" stroke-linejoin="round"/>
<path d="M892,246 C889,241 886,237 883,234" fill="none" stroke="#000" stroke-width="2.4" stroke-linecap="round" stroke-linejoin="round"/>
<path d="M870,300 C866,315 860,340 856,360 L852.5,367" fill="none" stroke="#000" stroke-width="2" stroke-linecap="round" stroke-linejoin="round"/>
<path d="M852.5,367 C848,375 840,377.5 805,377.6 L754.4,375.3" fill="none" stroke="#000" stroke-width="2" stroke-linecap="round" stroke-linejoin="round"/>
<path d="M852.5,367 Q855,372 858.6,375.3" fill="none" stroke="#000" stroke-width="1.6" stroke-linecap="round" stroke-linejoin="round"/>
<path d="M852.5,367 Q854,378 855,387.5" fill="none" stroke="#000" stroke-width="1.6" stroke-linecap="round" stroke-linejoin="round"/>
<path d="M836,324.7 C848,323 858,318 866,305" fill="none" stroke="#000" stroke-width="2" stroke-linecap="round" stroke-linejoin="round"/>
<path d="M817.5,153 C825,165 850,172 880,172.5 C900,172 912,160 918,150" fill="none" stroke="#000" stroke-width="1.6" stroke-linecap="round" stroke-linejoin="round"/>
<path d="M882.7,176 C878,179 873,183 871,187" fill="none" stroke="#000" stroke-width="1.6" stroke-linecap="round" stroke-linejoin="round"/>
<path d="M910,191 Q905,194 895,194" fill="none" stroke="#000" stroke-width="3" stroke-linecap="round" stroke-linejoin="round"/>
<path d="M906,209 Q900,208 891,207.5" fill="none" stroke="#000" stroke-width="3" stroke-linecap="round" stroke-linejoin="round"/>
<circle cx="666.8" cy="102.8" r="4.9" fill="#f35b5f"/>
<circle cx="677.5" cy="99" r="5.8" fill="#5cae61"/>
<circle cx="674" cy="108.7" r="6.1" fill="#6265f6"/>
<circle cx="694" cy="58.8" r="4.1" fill="#5cae61"/>
<circle cx="712.8" cy="94" r="5.8" fill="#f35b5f"/>
<circle cx="702" cy="92.9" r="5.8" fill="#5cae61"/>
<circle cx="707.7" cy="83.2" r="5.8" fill="#6265f6"/>
<circle cx="738.6" cy="84.7" r="2.5" fill="#6265f6"/>
<circle cx="750.7" cy="99.3" r="2.5" fill="#f35b5f"/>
<circle cx="740" cy="34.6" r="2.6" fill="#5cae61"/>
<circle cx="748.8" cy="40" r="4.9" fill="#f35b5f"/>
<circle cx="758" cy="39.2" r="6.1" fill="#5cae61"/>
<circle cx="753.4" cy="32" r="6.4" fill="#6265f6"/>
<circle cx="775.2" cy="84.1" r="2.5" fill="#5cae61"/>
<circle cx="771.8" cy="91.3" r="2.5" fill="#f35b5f"/>
<circle cx="767.2" cy="94.4" r="2.5" fill="#5cae61"/>
<circle cx="770.3" cy="96.2" r="2.7" fill="#6265f6"/>
<circle cx="780.4" cy="64.5" r="4" fill="#f35b5f"/>
<circle cx="793" cy="40" r="6.1" fill="#5cae61"/>
<circle cx="797.6" cy="46.8" r="5.8" fill="#f35b5f"/>
<circle cx="789.1" cy="47.6" r="4.3" fill="#6265f6"/>
<circle cx="815.2" cy="46.8" r="5.8" fill="#f35b5f"/>
<circle cx="822.1" cy="39.2" r="6.1" fill="#5cae61"/>
<circle cx="825.2" cy="46.4" r="4.6" fill="#6265f6"/>
<circle cx="862" cy="30" r="6.1" fill="#f35b5f"/>
<circle cx="853.6" cy="38.4" r="5.8" fill="#5cae61"/>
<circle cx="862.5" cy="39.6" r="6.4" fill="#6265f6"/>
<circle cx="872.7" cy="34.9" r="2.5" fill="#f35b5f"/>
<circle cx="826.7" cy="65.7" r="5.4" fill="#f35b5f"/>
<circle cx="834.4" cy="62.2" r="6.1" fill="#5cae61"/>
<circle cx="833.6" cy="69.8" r="2.5" fill="#6265f6"/>
<circle cx="835.2" cy="85.2" r="2.5" fill="#5cae61"/>
<circle cx="839" cy="87.2" r="2.5" fill="#f35b5f"/>
<circle cx="841.3" cy="94.4" r="3.8" fill="#f35b5f"/>
<circle cx="843" cy="91.5" r="2.8" fill="#5cae61"/>
<circle cx="847" cy="98" r="4.3" fill="#6265f6"/>
<circle cx="865" cy="99.8" r="3.4" fill="#f35b5f"/>
<circle cx="861.2" cy="101.3" r="2.5" fill="#5cae61"/>
<circle cx="861.2" cy="97.1" r="2.5" fill="#6265f6"/>
<circle cx="874.7" cy="82.9" r="6.1" fill="#5cae61"/>
<circle cx="878.1" cy="89.8" r="4.3" fill="#6265f6"/>
<circle cx="896.9" cy="96" r="4.6" fill="#f35b5f"/>
<circle cx="905.8" cy="93.7" r="6.1" fill="#5cae61"/>
<circle cx="901.2" cy="86.8" r="6.1" fill="#6265f6"/>
<circle cx="914.5" cy="61.5" r="4.3" fill="#5cae61"/>
<circle cx="920.2" cy="58.1" r="3.8" fill="#f35b5f"/>
<circle cx="920.2" cy="63.3" r="2.5" fill="#6265f6"/>
<circle cx="938" cy="106.3" r="12" fill="#f35b5f"/>
<circle cx="942.9" cy="107.5" r="5.8" fill="#5cae61"/>
<circle cx="934" cy="104.4" r="6.4" fill="#6265f6"/>
<circle cx="939.8" cy="143" r="6.1" fill="#5cae61"/>
<circle cx="947.5" cy="150.7" r="5.8" fill="#f35b5f"/>
<circle cx="948.3" cy="142.2" r="6.4" fill="#6265f6"/>
<circle cx="938.3" cy="166" r="5.8" fill="#f35b5f"/>
<circle cx="946.3" cy="163.3" r="6.1" fill="#5cae61"/>
<circle cx="946.7" cy="171.4" r="6.4" fill="#6265f6"/>
<circle cx="966.7" cy="143.8" r="4.3" fill="#f35b5f"/>
<circle cx="969.7" cy="149.1" r="3.8" fill="#5cae61"/>
<circle cx="963.6" cy="149.1" r="4.3" fill="#6265f6"/>
<circle cx="975.4" cy="140.7" r="4.6" fill="#6265f6"/>
<circle cx="978.2" cy="145.3" r="3.8" fill="#f35b5f"/>
<circle cx="980.5" cy="150.7" r="4.3" fill="#5cae61"/>
<circle cx="992.7" cy="141.5" r="2.3" fill="#f35b5f"/>
<circle cx="995.8" cy="146.1" r="4.3" fill="#5cae61"/>
<circle cx="973.6" cy="177" r="2.5" fill="#f35b5f"/>
<circle cx="962.8" cy="195.9" r="3.8" fill="#f35b5f"/>
<circle cx="966.7" cy="198.2" r="2.7" fill="#5cae61"/>
<circle cx="964" cy="200.5" r="2.5" fill="#6265f6"/>
<circle cx="938.3" cy="198.2" r="2.5" fill="#f35b5f"/>
<circle cx="939" cy="202.5" r="2.5" fill="#5cae61"/>
<circle cx="894.2" cy="192.9" r="4.3" fill="#5cae61"/>
<circle cx="894.7" cy="198.3" r="2.5" fill="#6265f6"/>
<circle cx="890.4" cy="207.5" r="2.5" fill="#6265f6"/>
<circle cx="817.5" cy="153" r="2.5" fill="#5cae61"/>
<circle cx="868.1" cy="182.9" r="2.7" fill="#6265f6"/>
<circle cx="871.2" cy="187" r="2.7" fill="#5cae61"/>
<circle cx="763.4" cy="212.8" r="2.5" fill="#f35b5f"/>
<circle cx="849.7" cy="212.8" r="2.5" fill="#f35b5f"/>
<circle cx="845.9" cy="214" r="2.5" fill="#5cae61"/>
<circle cx="854.8" cy="209.8" r="2.5" fill="#f35b5f"/>
<circle cx="855.9" cy="212" r="2.5" fill="#5cae61"/>
<circle cx="863" cy="213.1" r="2.5" fill="#f35b5f"/>
<circle cx="863" cy="216.7" r="2.5" fill="#5cae61"/>
<circle cx="869.2" cy="218.2" r="2.5" fill="#f35b5f"/>
<circle cx="873.5" cy="219.7" r="2.5" fill="#6265f6"/>
<circle cx="881.3" cy="230.7" r="3.8" fill="#f35b5f"/>
<circle cx="885.9" cy="233.8" r="2.5" fill="#5cae61"/>
<circle cx="882.8" cy="235.3" r="2.5" fill="#6265f6"/>
<circle cx="855.2" cy="228.4" r="5.8" fill="#f35b5f"/>
<circle cx="862.1" cy="232" r="6.4" fill="#6265f6"/>
<circle cx="867.5" cy="235.3" r="5.8" fill="#5cae61"/>
<circle cx="856" cy="241.5" r="2.5" fill="#f35b5f"/>
<circle cx="858.3" cy="243.8" r="2.5" fill="#5cae61"/>
<circle cx="849.8" cy="253.7" r="5.8" fill="#f35b5f"/>
<circle cx="862.9" cy="254" r="6.1" fill="#5cae61"/>
<circle cx="856.7" cy="254.5" r="4.3" fill="#6265f6"/>
<circle cx="869.8" cy="261.1" r="2.5" fill="#f35b5f"/>
<circle cx="875.1" cy="263.7" r="4.3" fill="#5cae61"/>
<circle cx="863.6" cy="273.4" r="2.5" fill="#f35b5f"/>
<circle cx="869.4" cy="272.9" r="4.3" fill="#5cae61"/>
<circle cx="857.2" cy="282.6" r="2.5" fill="#5cae61"/>
<circle cx="845.5" cy="294.7" r="2.5" fill="#5cae61"/>
<circle cx="856.7" cy="303.6" r="3" fill="#5cae61"/>
<circle cx="882.8" cy="307.4" r="5.8" fill="#f35b5f"/>
<circle cx="885.1" cy="297.5" r="6.1" fill="#5cae61"/>
<circle cx="876.7" cy="299.8" r="6.4" fill="#6265f6"/>
<circle cx="898.1" cy="310.5" r="2.5" fill="#f35b5f"/>
<circle cx="899.7" cy="304" r="4" fill="#5cae61"/>
<circle cx="894" cy="306.7" r="4.3" fill="#6265f6"/>
<circle cx="897.7" cy="285.2" r="4" fill="#f35b5f"/>
<circle cx="900.1" cy="275.5" r="3.8" fill="#f35b5f"/>
<circle cx="905" cy="269.8" r="4.3" fill="#5cae61"/>
<circle cx="898.6" cy="268.8" r="4.6" fill="#6265f6"/>
<circle cx="922" cy="273.5" r="2.5" fill="#5cae61"/>
<circle cx="955.6" cy="262.6" r="2.5" fill="#f35b5f"/>
<circle cx="940.3" cy="286.3" r="2.5" fill="#f35b5f"/>
<circle cx="967.8" cy="256.3" r="4" fill="#f35b5f"/>
<circle cx="973.6" cy="256.3" r="3" fill="#5cae61"/>
<circle cx="970.8" cy="259.3" r="3" fill="#6265f6"/>
<circle cx="962.7" cy="293.1" r="2.5" fill="#f35b5f"/>
<circle cx="836" cy="324.7" r="2.5" fill="#5cae61"/>
<circle cx="858.6" cy="375.3" r="2.5" fill="#5cae61"/>
<circle cx="855" cy="387.5" r="2.5" fill="#5cae61"/>
<circle cx="754.4" cy="375.3" r="2.5" fill="#5cae61"/>
<circle cx="618" cy="143.7" r="2.5" fill="#5cae61"/>
<circle cx="639" cy="139.9" r="2.5" fill="#6265f6"/>
<circle cx="643.6" cy="144.5" r="4" fill="#f35b5f"/>
<circle cx="642.1" cy="151.1" r="4.3" fill="#6265f6"/>
<circle cx="664.4" cy="146.8" r="2.5" fill="#f35b5f"/>
<circle cx="669" cy="145" r="2.5" fill="#6265f6"/>
<circle cx="668.2" cy="149.9" r="2.5" fill="#5cae61"/>
<circle cx="667.7" cy="164" r="2.5" fill="#6265f6"/>
<circle cx="649.8" cy="197.1" r="2.5" fill="#f35b5f"/>
<circle cx="675.1" cy="198.7" r="2.5" fill="#f35b5f"/>
<circle cx="657.5" cy="262.1" r="2.5" fill="#f35b5f"/>
<circle cx="660" cy="266" r="2.5" fill="#5cae61"/>
<circle cx="650.9" cy="293.3" r="2.5" fill="#f35b5f"/>
<circle cx="652.4" cy="298.2" r="2.5" fill="#5cae61"/>
<text x="0" y="4.47" font-size="12.5" text-anchor="middle" transform="translate(810.6 28.5) rotate(-70)">ORB</text>
<text x="0" y="4.47" font-size="12.5" text-anchor="middle" transform="translate(851 23) rotate(-20)">MOs</text>
<text x="0" y="4.47" font-size="12.5" text-anchor="middle" transform="translate(884.5 31.5) rotate(15)">PL</text>
<text x="0" y="4.47" font-size="12.5" text-anchor="middle" transform="translate(929 54) rotate(35)">ACA</text>
<text x="0" y="4.83" font-size="13.5" text-anchor="middle" transform="translate(955.5 100) rotate(45)">MOp-ul</text>
<text x="0" y="4.47" font-size="12.5" text-anchor="middle" transform="translate(1015 155.3) rotate(25)">RSP</text>
<text x="0" y="4.47" font-size="12.5" text-anchor="middle" transform="translate(1005 190.5) rotate(62)">MOp-il, MOp-tr</text>
<text x="0" y="4.47" font-size="12.5" text-anchor="middle" transform="translate(986.5 187.5) rotate(58.6)">SSp-il, SSp-tr</text>
<text x="0" y="4.47" font-size="12.5" text-anchor="middle" transform="translate(980.5 216.6) rotate(50)">AUDv</text>
<text x="0" y="4.47" font-size="12.5" text-anchor="middle" transform="translate(931.4 149.1) rotate(90)">bfd</text>
<text x="0" y="4.47" font-size="12.5" text-anchor="middle" transform="translate(933 178.3) rotate(70)">SSs</text>
<text x="0" y="4.47" font-size="12.5" text-anchor="middle" transform="translate(937 220) rotate(80)">PERI</text>
<text x="0" y="4.47" font-size="12.5" text-anchor="middle" transform="translate(947 275.3) rotate(-50)">ECT</text>
<text x="0" y="4.47" font-size="12.5" text-anchor="middle" transform="translate(924 290) rotate(60)">CEAl</text>
<text x="0" y="4.47" font-size="12.5" text-anchor="middle" transform="translate(915 257) rotate(-45)">PCN</text>
<text x="0" y="4.47" font-size="12.5" text-anchor="middle" transform="translate(903 319.7) rotate(-20)">PF</text>
<text x="0" y="4.47" font-size="12.5" text-anchor="middle" transform="translate(812.5 74.5) rotate(40)">CLA</text>
<text x="0" y="4.12" font-size="11.5" text-anchor="middle" transform="translate(861 84) rotate(20)">SSp-m</text>
<text x="0" y="4.12" font-size="11.5" text-anchor="middle" transform="translate(895 96.7) rotate(20)">SSp-ul</text>
<text x="0" y="4.47" font-size="12.5" text-anchor="middle" transform="translate(889.6 189) rotate(-40)">GPe</text>
<text x="0" y="4.47" font-size="12.5" text-anchor="middle" transform="translate(874 211.5) rotate(15)">CM</text>
<text x="988.1" y="265.7" font-size="12" text-anchor="middle">TEa</text>
<text x="977.3" y="308.4" font-size="12" text-anchor="middle">ENTI</text>
<text x="905.05" y="296.7" font-size="12" text-anchor="middle">CL</text>
<text x="874.75" y="322.2" font-size="12" text-anchor="middle">PO</text>
<text x="831.4" y="305.6" font-size="12" text-anchor="middle">LHA</text>
<text x="849.05" y="292" font-size="12" text-anchor="middle">ZI</text>
<text x="853.65" y="280.6" font-size="12" text-anchor="middle">VPL</text>
<text x="855.55" y="266.8" font-size="12" text-anchor="middle">VPM</text>
<text x="835.6" y="253.4" font-size="12" text-anchor="middle">VM</text>
<text x="837.9" y="230.4" font-size="12" text-anchor="middle">VAL</text>
<text x="889.7" y="231.5" font-size="12" text-anchor="middle">MD</text>
<text x="854.7" y="207.5" font-size="12" text-anchor="middle">AM</text>
<text x="833.25" y="214.4" font-size="12" text-anchor="middle">RE</text>
<text x="857.4" y="192.6" font-size="12" text-anchor="middle">SI</text>
<text x="822.5" y="150" font-size="12" text-anchor="middle">NDB</text>
<text x="872.4" y="383.7" font-size="12" text-anchor="middle">DR</text>
<text x="863.95" y="402.3" font-size="12" text-anchor="middle">CS</text>
<text x="818.35" y="328.5" font-size="12" text-anchor="middle">VTA</text>
<text x="786.1" y="106.7" font-size="12" text-anchor="middle">cc</text>
<text x="827.1" y="104.4" font-size="12" text-anchor="middle">AId</text>
<text x="876.9" y="109" font-size="12" text-anchor="middle">GU</text>
<text x="829.8" y="548" font-size="17.4" textLength="181.5" lengthAdjust="spacingAndGlyphs">CP-projecting neurons</text>
<circle cx="838.5" cy="564.5" r="9.4" fill="#f35b5f"/>
<text x="854.5" y="572" font-size="17.4" textLength="127" lengthAdjust="spacingAndGlyphs">Input to MOp-ul</text>
<circle cx="838.5" cy="589.2" r="9.4" fill="#5cae61"/>
<text x="854.5" y="596.3" font-size="17.4" textLength="172" lengthAdjust="spacingAndGlyphs">Input to MOp-ul L5 IT</text>
<circle cx="838.5" cy="619.7" r="9.4" fill="#6265f6"/>
<text x="854.5" y="624.3" font-size="17.4" textLength="127" lengthAdjust="spacingAndGlyphs">Input to MOp-ul</text>
<line x1="830.4" y1="666.3" x2="847.3" y2="666.3" stroke="#000" stroke-width="4.2" stroke-linecap="round"/>
<text x="854.5" y="671.4" font-size="17.4" textLength="190" lengthAdjust="spacingAndGlyphs">Putative input pathways</text>
<circle cx="847.4" cy="695.5" r="9.4" fill="#f35b5f"/>
<circle cx="838" cy="712" r="9.4" fill="#6265f6"/>
<circle cx="857" cy="712" r="9.4" fill="#5cae61"/>
<text x="819.7" y="739.3" font-size="17.4" textLength="52.8" lengthAdjust="spacingAndGlyphs">Strong</text>
<line x1="829.3" y1="752" x2="866.2" y2="752" stroke="#000" stroke-width="5.6" stroke-linecap="round"/>
<circle cx="923.2" cy="703.7" r="6.4" fill="#f35b5f"/>
<circle cx="916.8" cy="715.9" r="6.4" fill="#6265f6"/>
<circle cx="929.6" cy="715.9" r="6.4" fill="#5cae61"/>
<text x="885.5" y="741.3" font-size="17.4" textLength="76.6" lengthAdjust="spacingAndGlyphs">Moderate</text>
<line x1="904.9" y1="752" x2="941.3" y2="752" stroke="#000" stroke-width="3" stroke-linecap="round"/>
<circle cx="998.2" cy="709.5" r="3.6" fill="#f35b5f"/>
<circle cx="995" cy="716.4" r="3.6" fill="#6265f6"/>
<circle cx="1002" cy="716.4" r="3.6" fill="#5cae61"/>
<text x="974.8" y="741.3" font-size="17.4" textLength="44.4" lengthAdjust="spacingAndGlyphs">Weak</text>
<line x1="979.7" y1="751.5" x2="1017.8" y2="751.5" stroke="#000" stroke-width="1.2" />
</svg>
</body></html>
